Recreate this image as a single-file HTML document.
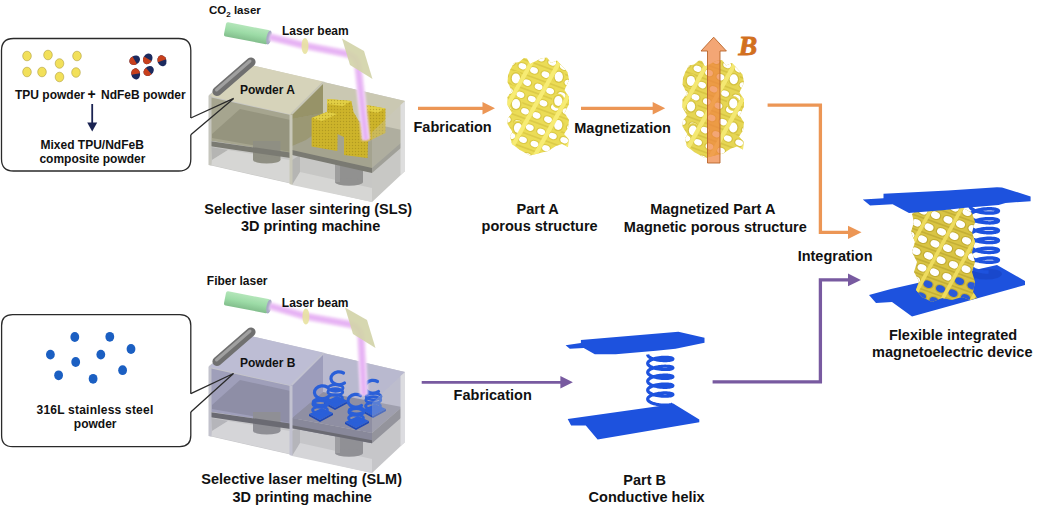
<!DOCTYPE html>
<html><head><meta charset="utf-8"><style>
html,body{margin:0;padding:0;background:#fff;width:1041px;height:513px;overflow:hidden}
svg{display:block}
text{font-family:"Liberation Sans",sans-serif;font-weight:bold}
</style></head><body>
<svg width="1041" height="513" viewBox="0 0 1041 513" style="font-family:'Liberation Sans',sans-serif;font-weight:bold"><defs><filter id="soft" x="-20%" y="-20%" width="140%" height="140%"><feGaussianBlur stdDeviation="0.9"/></filter><pattern id="dotpat" width="3" height="3" patternUnits="userSpaceOnUse"><circle cx="1.5" cy="1.5" r="0.7" fill="#9a8418" opacity="0.55"/></pattern><clipPath id="clH"><polygon points="311.6,118 327,112 327.4,99 351.4,101 353.5,112 360,123 366,118 366.3,105 385.4,108.5 385.4,133 368,141.5 367.5,158 344,155 344,137 337.5,134 337.3,151 311.6,146.4"/></clipPath></defs>
<rect width="1041" height="513" fill="#ffffff"/>
<polygon points="209.0,95.0 246.0,64.0 405.0,101.0 405.0,171.0 372.0,202.0 209.0,165.0" fill="#c7c7c5" stroke="none" stroke-width="0" />
<polygon points="211.0,147.0 228.0,150.0 212.0,160.0" fill="#b5b5b3" stroke="none" stroke-width="0" />
<polygon points="228.0,150.0 290.0,160.0 290.0,183.0 211.0,165.0 212.0,160.0" fill="#d6d6d4" stroke="none" stroke-width="0" />
<polygon points="292.0,160.0 300.0,155.0 300.0,175.0 292.0,185.0" fill="#b5b5b3" stroke="none" stroke-width="0" />
<polygon points="300.0,172.0 372.0,188.0 372.0,202.0 292.0,185.0" fill="#d6d6d4" stroke="none" stroke-width="0" />
<rect x="335" y="160" width="28" height="22" fill="#919190"/>
<ellipse cx="349" cy="182" rx="14" ry="3.8" fill="#919190"/>
<rect x="335" y="160" width="5" height="22" fill="#ffffff" opacity="0.12"/>
<polygon points="323.0,82.0 405.0,101.0 405.0,150.0 323.0,132.0" fill="#cac8b2" stroke="none" stroke-width="0" />
<polygon points="290.5,113.5 323.0,82.0 323.0,132.0 292.0,150.0" fill="#979368" stroke="none" stroke-width="0" />
<polygon points="292.0,119.0 323.0,113.0 402.0,130.0 402.0,146.0 372.0,171.0 292.0,153.0" fill="#a4a38f" stroke="none" stroke-width="0" />
<polygon points="292.0,119.0 323.0,113.0 323.0,128.0 306.0,140.0 292.0,146.0" fill="#979368" stroke="none" stroke-width="0" opacity="0.7"/>
<polygon points="292.0,150.0 372.0,168.0 372.0,173.0 292.0,155.0" fill="#7a7a72" stroke="none" stroke-width="0" />
<polygon points="372.0,168.0 402.0,142.0 402.0,147.0 372.0,173.0" fill="#8e8e85" stroke="none" stroke-width="0" />
<polygon points="209.0,97.0 290.5,115.0 290.5,153.0 209.0,140.5" fill="#a6a58f" stroke="none" stroke-width="0" />
<polygon points="240.0,109.0 290.5,120.0 290.5,152.0 212.0,138.0 212.0,134.0" fill="#95947e" stroke="none" stroke-width="0" />
<rect x="253" y="141" width="27.5" height="19" fill="#8f8f83"/>
<ellipse cx="266.7" cy="160" rx="13.7" ry="3.5" fill="#8f8f83"/>
<polygon points="209.0,141.0 290.5,152.5 290.5,158.0 209.0,146.0" fill="#7a7a72" stroke="none" stroke-width="0" />
<polygon points="209.0,96.0 246.0,64.0 323.0,81.5 290.5,114.5" fill="#d6d3ba" stroke="none" stroke-width="0" />
<polygon points="289.5,114.0 292.5,114.5 292.5,185.0 289.5,184.0" fill="#c8c7b8" stroke="none" stroke-width="0" />
<polygon points="290.5,113.5 323.0,81.5 325.0,82.0 292.5,114.5" fill="#c8c7b8" stroke="none" stroke-width="0" />
<polygon points="311.6,118.0 327.0,112.0 327.4,99.0 351.4,101.0 353.5,112.0 360.0,123.0 366.0,118.0 366.3,105.0 385.4,108.5 385.4,133.0 368.0,141.5 367.5,158.0 344.0,155.0 344.0,137.0 337.5,134.0 337.3,151.0 311.6,146.4" fill="#cdb42a" stroke="none" stroke-width="0" />
<polygon points="311.6,118.0 327.0,112.0 337.0,114.0 322.0,121.0" fill="#e2cf45" stroke="none" stroke-width="0" />
<polygon points="327.4,99.0 351.4,101.0 343.0,106.0 327.0,104.0" fill="#e2cf45" stroke="none" stroke-width="0" />
<polygon points="366.3,105.0 385.4,108.5 377.0,113.0 366.0,110.0" fill="#e2cf45" stroke="none" stroke-width="0" />
<rect x="311" y="98" width="75" height="61" fill="url(#dotpat)" clip-path="url(#clH)"/>
<polygon points="372.0,132.0 405.0,101.0 405.0,171.0 372.0,202.0" fill="#c9c9c7" stroke="none" stroke-width="0" opacity="0.3"/>
<polygon points="400.5,105.0 405.0,101.0 405.0,171.0 400.5,175.0" fill="#dedede" stroke="none" stroke-width="0" />
<polygon points="208.5,95.5 211.5,95.5 211.5,165.5 208.5,165.0" fill="#c6c6be" stroke="none" stroke-width="0" />
<g transform="translate(225,29) rotate(10.93)"><defs><linearGradient id="cyl0" x1="0" y1="0" x2="0" y2="1"><stop offset="0" stop-color="#b4e6ba"/><stop offset="0.5" stop-color="#9cdba6"/><stop offset="1" stop-color="#82be8c"/></linearGradient></defs><rect x="0" y="-7.2" width="44.8" height="14.4" rx="2" fill="url(#cyl0)"/><ellipse cx="44.8" cy="0" rx="2.5" ry="7.2" fill="#a7a9c4"/></g>
<path d="M270,37 L305,45.7 L348,54 Q357,57 358,66 L366,140" fill="none" stroke="#f3d6f8" stroke-width="8.5" stroke-linejoin="round" filter="url(#soft)"/>
<path d="M270,37 L305,45.7 L348,54 Q357,57 358,66 L366,140" fill="none" stroke="#e6b2f4" stroke-width="4.4" stroke-linejoin="round" filter="url(#soft)"/>
<ellipse cx="305.0" cy="46" rx="3.5" ry="8" fill="#e8e2a0" opacity="0.9"/>
<polygon points="342.0,38.5 364.0,51.0 372.5,79.0 350.0,65.0" fill="#d3d4a9" stroke="none" stroke-width="0" opacity="0.92"/>
<polygon points="209.0,366.0 246.0,335.0 405.0,372.0 405.0,442.0 372.0,473.0 209.0,436.0" fill="#c6c6c9" stroke="none" stroke-width="0" />
<polygon points="211.0,418.0 228.0,421.0 212.0,431.0" fill="#b5b5ba" stroke="none" stroke-width="0" />
<polygon points="228.0,421.0 290.0,431.0 290.0,454.0 211.0,436.0 212.0,431.0" fill="#d5d5d8" stroke="none" stroke-width="0" />
<polygon points="292.0,431.0 300.0,426.0 300.0,446.0 292.0,456.0" fill="#b5b5ba" stroke="none" stroke-width="0" />
<polygon points="300.0,443.0 372.0,459.0 372.0,473.0 292.0,456.0" fill="#d5d5d8" stroke="none" stroke-width="0" />
<rect x="335" y="431" width="28" height="22" fill="#909095"/>
<ellipse cx="349" cy="453" rx="14" ry="3.8" fill="#909095"/>
<rect x="335" y="431" width="5" height="22" fill="#ffffff" opacity="0.12"/>
<polygon points="323.0,353.0 405.0,372.0 405.0,413.0 323.0,395.0" fill="#b9b9cf" stroke="none" stroke-width="0" />
<polygon points="290.5,384.5 323.0,353.0 323.0,397.0 292.0,425.0" fill="#9d9dbb" stroke="none" stroke-width="0" />
<polygon points="292.0,418.0 323.0,392.0 402.0,407.0 372.0,433.0" fill="#8f8fa3" stroke="none" stroke-width="0" />
<polygon points="292.0,418.0 372.0,433.0 372.0,443.2 292.0,428.3" fill="#88889a" stroke="none" stroke-width="0" />
<polygon points="292.0,425.3 372.0,440.2 372.0,443.2 292.0,428.3" fill="#6a6a72" stroke="none" stroke-width="0" />
<polygon points="372.0,433.0 402.0,407.0 402.0,417.0 372.0,443.2" fill="#7e7e88" stroke="none" stroke-width="0" />
<polygon points="292.0,385.0 323.0,354.0 323.0,392.0 313.0,400.0 300.0,411.0 292.0,418.0" fill="#9d9dbb" stroke="none" stroke-width="0" opacity="0.85"/>
<polygon points="209.0,368.0 290.5,386.0 290.5,424.0 209.0,411.5" fill="#9f9fba" stroke="none" stroke-width="0" />
<polygon points="240.0,380.0 290.5,391.0 290.5,423.0 212.0,409.0 212.0,405.0" fill="#8e8ea6" stroke="none" stroke-width="0" />
<rect x="253" y="412" width="27.5" height="19" fill="#8f8f95"/>
<ellipse cx="266.7" cy="431" rx="13.7" ry="3.5" fill="#8f8f95"/>
<polygon points="209.0,412.0 290.5,423.5 290.5,429.0 209.0,417.0" fill="#6a6a72" stroke="none" stroke-width="0" />
<polygon points="209.0,367.0 246.0,335.0 323.0,352.5 290.5,385.5" fill="#bdbdd4" stroke="none" stroke-width="0" />
<polygon points="289.5,385.0 292.5,385.5 292.5,456.0 289.5,455.0" fill="#c2c2d0" stroke="none" stroke-width="0" />
<polygon points="290.5,384.5 323.0,352.5 325.0,353.0 292.5,385.5" fill="#c2c2d0" stroke="none" stroke-width="0" />
<polygon points="324.0,402.0 337.0,396.0 348.0,401.0 335.0,408.0" fill="#2a5fd8" stroke="none" stroke-width="0" />
<polygon points="324.0,402.0 335.0,408.0 348.0,401.0 348.0,403.0 335.0,410.0 324.0,404.0" fill="#1d48b8" stroke="none" stroke-width="0" />
<ellipse cx="335.0" cy="398.0" rx="7.5" ry="3.3" fill="none" stroke="#2a5fd8" stroke-width="2.8"/>
<ellipse cx="335.3" cy="392.0" rx="7.5" ry="3.3" fill="none" stroke="#2a5fd8" stroke-width="2.8"/>
<ellipse cx="335.6" cy="388.0" rx="7.5" ry="3.3" fill="none" stroke="#2a5fd8" stroke-width="2.8"/>
<path d="M343.5,373 A8,6.5 0 1 0 344.5,383" fill="none" stroke="#2a5fd8" stroke-width="3.2" stroke-linecap="round"/>
<polygon points="362.0,410.0 375.0,404.0 386.0,409.0 373.0,416.0" fill="#2a5fd8" stroke="none" stroke-width="0" />
<polygon points="362.0,410.0 373.0,416.0 386.0,409.0 386.0,411.0 373.0,418.0 362.0,412.0" fill="#1d48b8" stroke="none" stroke-width="0" />
<ellipse cx="373.0" cy="406.0" rx="7.5" ry="3.3" fill="none" stroke="#2a5fd8" stroke-width="2.8"/>
<ellipse cx="373.3" cy="400.0" rx="7.5" ry="3.3" fill="none" stroke="#2a5fd8" stroke-width="2.8"/>
<ellipse cx="373.6" cy="396.5" rx="7.5" ry="3.3" fill="none" stroke="#2a5fd8" stroke-width="2.8"/>
<path d="M377.5,381.5 A8,6.5 0 1 0 378.5,391.5" fill="none" stroke="#2a5fd8" stroke-width="3.2" stroke-linecap="round"/>
<polygon points="309.0,414.0 322.0,408.0 333.0,413.0 320.0,420.0" fill="#2a5fd8" stroke="none" stroke-width="0" />
<polygon points="309.0,414.0 320.0,420.0 333.0,413.0 333.0,415.0 320.0,422.0 309.0,416.0" fill="#1d48b8" stroke="none" stroke-width="0" />
<ellipse cx="320.0" cy="410.0" rx="7.5" ry="3.3" fill="none" stroke="#2a5fd8" stroke-width="2.8"/>
<ellipse cx="320.3" cy="404.0" rx="7.5" ry="3.3" fill="none" stroke="#2a5fd8" stroke-width="2.8"/>
<ellipse cx="320.6" cy="402.0" rx="7.5" ry="3.3" fill="none" stroke="#2a5fd8" stroke-width="2.8"/>
<path d="M327,387 A8,6.5 0 1 0 328,397" fill="none" stroke="#2a5fd8" stroke-width="3.2" stroke-linecap="round"/>
<polygon points="345.0,422.0 358.0,416.0 369.0,421.0 356.0,428.0" fill="#2a5fd8" stroke="none" stroke-width="0" />
<polygon points="345.0,422.0 356.0,428.0 369.0,421.0 369.0,423.0 356.0,430.0 345.0,424.0" fill="#1d48b8" stroke="none" stroke-width="0" />
<ellipse cx="356.0" cy="418.0" rx="7.5" ry="3.3" fill="none" stroke="#2a5fd8" stroke-width="2.8"/>
<ellipse cx="356.3" cy="412.0" rx="7.5" ry="3.3" fill="none" stroke="#2a5fd8" stroke-width="2.8"/>
<ellipse cx="356.6" cy="410.5" rx="7.5" ry="3.3" fill="none" stroke="#2a5fd8" stroke-width="2.8"/>
<path d="M360.5,395.5 A8,6.5 0 1 0 361.5,405.5" fill="none" stroke="#2a5fd8" stroke-width="3.2" stroke-linecap="round"/>
<polygon points="372.0,403.0 405.0,372.0 405.0,442.0 372.0,473.0" fill="#c6c6ca" stroke="none" stroke-width="0" opacity="0.3"/>
<polygon points="400.5,376.0 405.0,372.0 405.0,442.0 400.5,446.0" fill="#dcdce0" stroke="none" stroke-width="0" />
<polygon points="208.5,366.5 211.5,366.5 211.5,436.5 208.5,436.0" fill="#c2c2cc" stroke="none" stroke-width="0" />
<g transform="translate(225,298) rotate(10.93)"><defs><linearGradient id="cyl269" x1="0" y1="0" x2="0" y2="1"><stop offset="0" stop-color="#b4e6ba"/><stop offset="0.5" stop-color="#9cdba6"/><stop offset="1" stop-color="#82be8c"/></linearGradient></defs><rect x="0" y="-7.2" width="44.8" height="14.4" rx="2" fill="url(#cyl269)"/><ellipse cx="44.8" cy="0" rx="2.5" ry="7.2" fill="#a7a9c4"/></g>
<path d="M270,306 L305,316.2 L351,324.5 Q360,327.5 361,336.5 L364,395" fill="none" stroke="#f3d6f8" stroke-width="8.5" stroke-linejoin="round" filter="url(#soft)"/>
<path d="M270,306 L305,316.2 L351,324.5 Q360,327.5 361,336.5 L364,395" fill="none" stroke="#e6b2f4" stroke-width="4.4" stroke-linejoin="round" filter="url(#soft)"/>
<ellipse cx="305.9" cy="316.5" rx="3.5" ry="8" fill="#e8e2a0" opacity="0.9"/>
<polygon points="345.0,307.5 367.0,320.0 375.5,348.0 353.0,334.0" fill="#d3d4a9" stroke="none" stroke-width="0" opacity="0.92"/>
<line x1="217" y1="91.5" x2="251" y2="62" stroke="#707070" stroke-width="9.2" stroke-linecap="round"/>
<line x1="216.5" y1="90" x2="250" y2="61" stroke="#a0a0a0" stroke-width="3" stroke-linecap="round"/>
<line x1="217" y1="361.5" x2="251" y2="332" stroke="#707070" stroke-width="9.2" stroke-linecap="round"/>
<line x1="216.5" y1="360" x2="250" y2="331" stroke="#a0a0a0" stroke-width="3" stroke-linecap="round"/>
<path d="M13.5,38.5 H178.8 Q190.8,38.5 190.8,50.5 V118 M190.8,134.7 V159 Q190.8,171 178.8,171 H13.5 Q1.5,171 1.5,159 V50.5 Q1.5,38.5 13.5,38.5" fill="none" stroke="#2a2a2a" stroke-width="1.3"/>
<path d="M190.8,118 L233.7,98.4 L190.8,134.7" fill="none" stroke="#2a2a2a" stroke-width="1.3"/>
<path d="M12.6,314.6 H179.8 Q190.8,314.6 190.8,325.6 V393.7 M190.8,412.1 V435.6 Q190.8,446.6 179.8,446.6 H12.6 Q1.6,446.6 1.6,435.6 V325.6 Q1.6,314.6 12.6,314.6" fill="none" stroke="#2a2a2a" stroke-width="1.3"/>
<path d="M190.8,393.7 L233.5,373.5 L190.8,412.1" fill="none" stroke="#2a2a2a" stroke-width="1.3"/>
<ellipse cx="27" cy="56" rx="4.3" ry="4.8" fill="#f2e05a" stroke="#b0a040" stroke-width="0.6"/>
<ellipse cx="48" cy="55" rx="4.3" ry="4.8" fill="#f2e05a" stroke="#b0a040" stroke-width="0.6"/>
<ellipse cx="77" cy="56" rx="4.3" ry="4.8" fill="#f2e05a" stroke="#b0a040" stroke-width="0.6"/>
<ellipse cx="59.5" cy="63.5" rx="4.3" ry="4.8" fill="#f2e05a" stroke="#b0a040" stroke-width="0.6"/>
<ellipse cx="27" cy="72" rx="4.3" ry="4.8" fill="#f2e05a" stroke="#b0a040" stroke-width="0.6"/>
<ellipse cx="42" cy="72" rx="4.3" ry="4.8" fill="#f2e05a" stroke="#b0a040" stroke-width="0.6"/>
<ellipse cx="59.5" cy="77" rx="4.3" ry="4.8" fill="#f2e05a" stroke="#b0a040" stroke-width="0.6"/>
<ellipse cx="76" cy="72.5" rx="4.3" ry="4.8" fill="#f2e05a" stroke="#b0a040" stroke-width="0.6"/>
<g transform="translate(134.7,60.2) rotate(-30)"><ellipse rx="5.6" ry="4.4" fill="#1c2a5e"/><path d="M0,-4.4 A5.6,4.4 0 0 0 0,4.4 Z" fill="#c8401c"/></g>
<g transform="translate(147.8,58.8) rotate(-60)"><ellipse rx="5.6" ry="4.4" fill="#1c2a5e"/><path d="M0,-4.4 A5.6,4.4 0 0 0 0,4.4 Z" fill="#c8401c"/></g>
<g transform="translate(162,60.8) rotate(70)"><ellipse rx="5.6" ry="4.4" fill="#1c2a5e"/><path d="M0,-4.4 A5.6,4.4 0 0 0 0,4.4 Z" fill="#c8401c"/></g>
<g transform="translate(135.7,73.9) rotate(80)"><ellipse rx="5.6" ry="4.4" fill="#1c2a5e"/><path d="M0,-4.4 A5.6,4.4 0 0 0 0,4.4 Z" fill="#c8401c"/></g>
<g transform="translate(148.7,71) rotate(-40)"><ellipse rx="5.6" ry="4.4" fill="#1c2a5e"/><path d="M0,-4.4 A5.6,4.4 0 0 0 0,4.4 Z" fill="#c8401c"/></g>
<ellipse cx="74.8" cy="337" rx="4.4" ry="4.9" fill="#1b5fc2"/>
<ellipse cx="109.8" cy="336.8" rx="4.4" ry="4.9" fill="#1b5fc2"/>
<ellipse cx="50.4" cy="354.6" rx="4.4" ry="4.9" fill="#1b5fc2"/>
<ellipse cx="75.7" cy="362" rx="4.4" ry="4.9" fill="#1b5fc2"/>
<ellipse cx="100.8" cy="354.6" rx="4.4" ry="4.9" fill="#1b5fc2"/>
<ellipse cx="131" cy="349" rx="4.4" ry="4.9" fill="#1b5fc2"/>
<ellipse cx="58.6" cy="375.3" rx="4.4" ry="4.9" fill="#1b5fc2"/>
<ellipse cx="93.1" cy="378.8" rx="4.4" ry="4.9" fill="#1b5fc2"/>
<ellipse cx="122.6" cy="370.2" rx="4.4" ry="4.9" fill="#1b5fc2"/>
<text x="15" y="98.6" font-size="12" text-anchor="start" fill="#111" >TPU powder</text>
<text x="91.5" y="98.8" font-size="14" text-anchor="middle" fill="#111" >+</text>
<text x="101" y="98.6" font-size="12" text-anchor="start" fill="#111" >NdFeB powder</text>
<line x1="92.2" y1="104" x2="92.2" y2="124" stroke="#1a2352" stroke-width="1.8"/>
<polygon points="87.2,122.4 97.2,122.4 92.2,131.5" fill="#1a2352" stroke="none" stroke-width="0" />
<text x="92.2" y="148.7" font-size="12" text-anchor="middle" fill="#111" >Mixed TPU/NdFeB</text>
<text x="92.4" y="163.4" font-size="12" text-anchor="middle" fill="#111" >composite powder</text>
<text x="95" y="414" font-size="12" text-anchor="middle" fill="#111" letter-spacing="0.22">316L stainless steel</text>
<text x="95.2" y="428.2" font-size="12" text-anchor="middle" fill="#111" >powder</text>
<text x="209" y="14.2" font-size="11.5" text-anchor="start" fill="#111" >CO<tspan font-size="8" dy="2.5">2</tspan><tspan dy="-2.5"> laser</tspan></text>
<text x="282" y="34.8" font-size="12" text-anchor="start" fill="#111" >Laser beam</text>
<text x="240" y="93.6" font-size="12" text-anchor="start" fill="#111" >Powder A</text>
<text x="206.8" y="285.3" font-size="12" text-anchor="start" fill="#111" >Fiber laser</text>
<text x="281.8" y="306.6" font-size="12" text-anchor="start" fill="#111" >Laser beam</text>
<text x="240" y="367.2" font-size="12" text-anchor="start" fill="#111" >Powder B</text>
<text x="308.2" y="213.8" font-size="14.5" text-anchor="middle" fill="#111" >Selective laser sintering (SLS)</text>
<text x="310.6" y="230.8" font-size="14.5" text-anchor="middle" fill="#111" >3D printing machine</text>
<text x="537.6" y="213.8" font-size="14.5" text-anchor="middle" fill="#111" >Part A</text>
<text x="539.6" y="231.1" font-size="14.5" text-anchor="middle" fill="#111" >porous structure</text>
<text x="712.8" y="214.2" font-size="14.5" text-anchor="middle" fill="#111" >Magnetized Part A</text>
<text x="715.3" y="231.5" font-size="14.5" text-anchor="middle" fill="#111" >Magnetic porous structure</text>
<text x="452.6" y="131.7" font-size="14.5" text-anchor="middle" fill="#111" >Fabrication</text>
<text x="622.6" y="133" font-size="14.5" text-anchor="middle" fill="#111" >Magnetization</text>
<text x="835.1" y="261" font-size="14.5" text-anchor="middle" fill="#111" >Integration</text>
<text x="953" y="340.1" font-size="14.5" text-anchor="middle" fill="#111" >Flexible integrated</text>
<text x="952.3" y="356.6" font-size="14.5" text-anchor="middle" fill="#111" >magnetoelectric device</text>
<text x="301.7" y="484.3" font-size="14.5" text-anchor="middle" fill="#111" >Selective laser melting (SLM)</text>
<text x="302.2" y="501.5" font-size="14.5" text-anchor="middle" fill="#111" >3D printing machine</text>
<text x="492.7" y="400.3" font-size="14.5" text-anchor="middle" fill="#111" >Fabrication</text>
<text x="644.7" y="484.6" font-size="14.5" text-anchor="middle" fill="#111" >Part B</text>
<text x="646.6" y="501.9" font-size="14.5" text-anchor="middle" fill="#111" >Conductive helix</text>
<line x1="418" y1="108.3" x2="483.5" y2="108.3" stroke="#ec9655" stroke-width="3.2"/>
<polygon points="482.5,102.1 495.0,108.3 482.5,114.5" fill="#ec9655" stroke="none" stroke-width="0" />
<line x1="581" y1="108.3" x2="653.7" y2="108.3" stroke="#ec9655" stroke-width="3.2"/>
<polygon points="652.7,102.1 665.2,108.3 652.7,114.5" fill="#ec9655" stroke="none" stroke-width="0" />
<polyline points="767.6,105.1 820.4,105.1 820.4,232.3 849,232.3" fill="none" stroke="#ec9655" stroke-width="3.3"/>
<polygon points="848.0,225.7 861.5,232.3 848.0,238.9" fill="#ec9655" stroke="none" stroke-width="0" />
<line x1="421.7" y1="382.3" x2="561.4" y2="382.3" stroke="#785aa0" stroke-width="2.8"/>
<polygon points="560.4,376.1 572.9,382.3 560.4,388.5" fill="#785aa0" stroke="none" stroke-width="0" />
<polyline points="712.6,381.8 820.4,381.8 820.4,279.9 849,279.9" fill="none" stroke="#785aa0" stroke-width="3.3"/>
<polygon points="848.0,273.5 860.9,279.9 848.0,286.3" fill="#785aa0" stroke="none" stroke-width="0" />
<defs><clipPath id="clA"><rect x="507" y="58" width="62" height="98" rx="9"/></clipPath><clipPath id="clM"><rect x="682" y="60" width="62" height="99" rx="9"/></clipPath><clipPath id="clD"><rect x="910" y="208" width="64" height="91" rx="9"/></clipPath></defs>
<clipPath id="silA"><path d="M510.0,70.0 L514.0,63.0 L519.0,62.0 L524.0,58.0 L527.0,58.5 L530.0,64.0 L536.0,61.0 L541.0,58.5 L547.0,57.5 L551.0,63.0 L557.0,60.5 L562.0,66.0 L567.5,72.0 L569.0,80.0 L564.5,90.0 L569.0,97.0 L569.0,104.0 L564.5,113.0 L569.0,120.0 L568.0,128.0 L564.0,134.0 L568.5,139.0 L568.0,147.0 L562.0,144.0 L556.0,146.0 L548.0,151.0 L540.0,153.0 L530.0,155.5 L520.0,150.0 L512.0,144.0 L510.0,136.0 L512.5,132.0 L507.5,124.0 L508.0,118.0 L512.0,113.0 L507.5,105.0 L507.5,97.0 L512.0,91.0 L507.5,82.0 L508.0,76.0 Z"/></clipPath>
<path d="M510.0,70.0 L514.0,63.0 L519.0,62.0 L524.0,58.0 L527.0,58.5 L530.0,64.0 L536.0,61.0 L541.0,58.5 L547.0,57.5 L551.0,63.0 L557.0,60.5 L562.0,66.0 L567.5,72.0 L569.0,80.0 L564.5,90.0 L569.0,97.0 L569.0,104.0 L564.5,113.0 L569.0,120.0 L568.0,128.0 L564.0,134.0 L568.5,139.0 L568.0,147.0 L562.0,144.0 L556.0,146.0 L548.0,151.0 L540.0,153.0 L530.0,155.5 L520.0,150.0 L512.0,144.0 L510.0,136.0 L512.5,132.0 L507.5,124.0 L508.0,118.0 L512.0,113.0 L507.5,105.0 L507.5,97.0 L512.0,91.0 L507.5,82.0 L508.0,76.0 Z" fill="#ebdc56"/>
<g clip-path="url(#silA)">
<line x1="337.6" y1="211.6" x2="567.6" y2="295.6" stroke="#cdb93a" stroke-width="1.6" opacity="0.5"/>
<line x1="344.4" y1="199.4" x2="574.4" y2="283.4" stroke="#cdb93a" stroke-width="1.6" opacity="0.5"/>
<line x1="351.2" y1="187.2" x2="581.2" y2="271.2" stroke="#cdb93a" stroke-width="1.6" opacity="0.5"/>
<line x1="358.0" y1="175.0" x2="588.0" y2="259.0" stroke="#cdb93a" stroke-width="1.6" opacity="0.5"/>
<line x1="364.8" y1="162.8" x2="594.8" y2="246.8" stroke="#cdb93a" stroke-width="1.6" opacity="0.5"/>
<line x1="371.6" y1="150.6" x2="601.6" y2="234.6" stroke="#cdb93a" stroke-width="1.6" opacity="0.5"/>
<line x1="378.4" y1="138.4" x2="608.4" y2="222.4" stroke="#cdb93a" stroke-width="1.6" opacity="0.5"/>
<line x1="385.2" y1="126.2" x2="615.2" y2="210.2" stroke="#cdb93a" stroke-width="1.6" opacity="0.5"/>
<line x1="392.0" y1="114.0" x2="622.0" y2="198.0" stroke="#cdb93a" stroke-width="1.6" opacity="0.5"/>
<line x1="398.8" y1="101.8" x2="628.8" y2="185.8" stroke="#cdb93a" stroke-width="1.6" opacity="0.5"/>
<line x1="405.6" y1="89.6" x2="635.6" y2="173.6" stroke="#cdb93a" stroke-width="1.6" opacity="0.5"/>
<line x1="412.4" y1="77.4" x2="642.4" y2="161.4" stroke="#cdb93a" stroke-width="1.6" opacity="0.5"/>
<line x1="419.2" y1="65.2" x2="649.2" y2="149.2" stroke="#cdb93a" stroke-width="1.6" opacity="0.5"/>
<line x1="426.0" y1="53.0" x2="656.0" y2="137.0" stroke="#cdb93a" stroke-width="1.6" opacity="0.5"/>
<line x1="432.8" y1="40.8" x2="662.8" y2="124.8" stroke="#cdb93a" stroke-width="1.6" opacity="0.5"/>
<line x1="439.6" y1="28.6" x2="669.6" y2="112.6" stroke="#cdb93a" stroke-width="1.6" opacity="0.5"/>
<line x1="446.4" y1="16.4" x2="676.4" y2="100.4" stroke="#cdb93a" stroke-width="1.6" opacity="0.5"/>
<line x1="453.2" y1="4.2" x2="683.2" y2="88.2" stroke="#cdb93a" stroke-width="1.6" opacity="0.5"/>
<line x1="460.0" y1="-8.0" x2="690.0" y2="76.0" stroke="#cdb93a" stroke-width="1.6" opacity="0.5"/>
<line x1="466.8" y1="-20.2" x2="696.8" y2="63.8" stroke="#cdb93a" stroke-width="1.6" opacity="0.5"/>
<line x1="473.6" y1="-32.4" x2="703.6" y2="51.6" stroke="#cdb93a" stroke-width="1.6" opacity="0.5"/>
<line x1="480.4" y1="-44.6" x2="710.4" y2="39.4" stroke="#cdb93a" stroke-width="1.6" opacity="0.5"/>
<ellipse cx="504.6" cy="147.8" rx="5.3" ry="4.1" fill="#cdb93a" opacity="0.55" transform="rotate(22 504.6 147.8)"/>
<ellipse cx="504.6" cy="147.8" rx="4.0" ry="3.0" fill="#ffffff" transform="rotate(22 504.6 147.8)"/>
<ellipse cx="516.1" cy="152.0" rx="5.3" ry="4.1" fill="#cdb93a" opacity="0.55" transform="rotate(22 516.1 152.0)"/>
<ellipse cx="516.1" cy="152.0" rx="4.0" ry="3.0" fill="#ffffff" transform="rotate(22 516.1 152.0)"/>
<ellipse cx="527.6" cy="156.2" rx="5.3" ry="4.1" fill="#cdb93a" opacity="0.55" transform="rotate(22 527.6 156.2)"/>
<ellipse cx="527.6" cy="156.2" rx="4.0" ry="3.0" fill="#ffffff" transform="rotate(22 527.6 156.2)"/>
<ellipse cx="539.1" cy="160.4" rx="5.3" ry="4.1" fill="#cdb93a" opacity="0.55" transform="rotate(22 539.1 160.4)"/>
<ellipse cx="539.1" cy="160.4" rx="4.0" ry="3.0" fill="#ffffff" transform="rotate(22 539.1 160.4)"/>
<ellipse cx="511.5" cy="135.6" rx="5.3" ry="4.1" fill="#cdb93a" opacity="0.55" transform="rotate(22 511.5 135.6)"/>
<ellipse cx="511.5" cy="135.6" rx="4.0" ry="3.0" fill="#ffffff" transform="rotate(22 511.5 135.6)"/>
<ellipse cx="523.0" cy="139.8" rx="5.3" ry="4.1" fill="#cdb93a" opacity="0.55" transform="rotate(22 523.0 139.8)"/>
<ellipse cx="523.0" cy="139.8" rx="4.0" ry="3.0" fill="#ffffff" transform="rotate(22 523.0 139.8)"/>
<ellipse cx="534.5" cy="144.0" rx="5.3" ry="4.1" fill="#cdb93a" opacity="0.55" transform="rotate(22 534.5 144.0)"/>
<ellipse cx="534.5" cy="144.0" rx="4.0" ry="3.0" fill="#ffffff" transform="rotate(22 534.5 144.0)"/>
<ellipse cx="546.0" cy="148.2" rx="5.3" ry="4.1" fill="#cdb93a" opacity="0.55" transform="rotate(22 546.0 148.2)"/>
<ellipse cx="546.0" cy="148.2" rx="4.0" ry="3.0" fill="#ffffff" transform="rotate(22 546.0 148.2)"/>
<ellipse cx="557.5" cy="152.4" rx="5.3" ry="4.1" fill="#cdb93a" opacity="0.55" transform="rotate(22 557.5 152.4)"/>
<ellipse cx="557.5" cy="152.4" rx="4.0" ry="3.0" fill="#ffffff" transform="rotate(22 557.5 152.4)"/>
<ellipse cx="569.0" cy="156.6" rx="5.3" ry="4.1" fill="#cdb93a" opacity="0.55" transform="rotate(22 569.0 156.6)"/>
<ellipse cx="569.0" cy="156.6" rx="4.0" ry="3.0" fill="#ffffff" transform="rotate(22 569.0 156.6)"/>
<ellipse cx="506.8" cy="119.2" rx="5.3" ry="4.1" fill="#cdb93a" opacity="0.55" transform="rotate(22 506.8 119.2)"/>
<ellipse cx="506.8" cy="119.2" rx="4.0" ry="3.0" fill="#ffffff" transform="rotate(22 506.8 119.2)"/>
<ellipse cx="518.2" cy="123.4" rx="5.3" ry="4.1" fill="#cdb93a" opacity="0.55" transform="rotate(22 518.2 123.4)"/>
<ellipse cx="518.2" cy="123.4" rx="4.0" ry="3.0" fill="#ffffff" transform="rotate(22 518.2 123.4)"/>
<ellipse cx="529.8" cy="127.6" rx="5.3" ry="4.1" fill="#cdb93a" opacity="0.55" transform="rotate(22 529.8 127.6)"/>
<ellipse cx="529.8" cy="127.6" rx="4.0" ry="3.0" fill="#ffffff" transform="rotate(22 529.8 127.6)"/>
<ellipse cx="541.2" cy="131.8" rx="5.3" ry="4.1" fill="#cdb93a" opacity="0.55" transform="rotate(22 541.2 131.8)"/>
<ellipse cx="541.2" cy="131.8" rx="4.0" ry="3.0" fill="#ffffff" transform="rotate(22 541.2 131.8)"/>
<ellipse cx="552.8" cy="136.0" rx="5.3" ry="4.1" fill="#cdb93a" opacity="0.55" transform="rotate(22 552.8 136.0)"/>
<ellipse cx="552.8" cy="136.0" rx="4.0" ry="3.0" fill="#ffffff" transform="rotate(22 552.8 136.0)"/>
<ellipse cx="564.2" cy="140.2" rx="5.3" ry="4.1" fill="#cdb93a" opacity="0.55" transform="rotate(22 564.2 140.2)"/>
<ellipse cx="564.2" cy="140.2" rx="4.0" ry="3.0" fill="#ffffff" transform="rotate(22 564.2 140.2)"/>
<ellipse cx="513.5" cy="107.0" rx="5.3" ry="4.1" fill="#cdb93a" opacity="0.55" transform="rotate(22 513.5 107.0)"/>
<ellipse cx="513.5" cy="107.0" rx="4.0" ry="3.0" fill="#ffffff" transform="rotate(22 513.5 107.0)"/>
<ellipse cx="525.0" cy="111.2" rx="5.3" ry="4.1" fill="#cdb93a" opacity="0.55" transform="rotate(22 525.0 111.2)"/>
<ellipse cx="525.0" cy="111.2" rx="4.0" ry="3.0" fill="#ffffff" transform="rotate(22 525.0 111.2)"/>
<ellipse cx="536.5" cy="115.4" rx="5.3" ry="4.1" fill="#cdb93a" opacity="0.55" transform="rotate(22 536.5 115.4)"/>
<ellipse cx="536.5" cy="115.4" rx="4.0" ry="3.0" fill="#ffffff" transform="rotate(22 536.5 115.4)"/>
<ellipse cx="548.0" cy="119.6" rx="5.3" ry="4.1" fill="#cdb93a" opacity="0.55" transform="rotate(22 548.0 119.6)"/>
<ellipse cx="548.0" cy="119.6" rx="4.0" ry="3.0" fill="#ffffff" transform="rotate(22 548.0 119.6)"/>
<ellipse cx="559.5" cy="123.8" rx="5.3" ry="4.1" fill="#cdb93a" opacity="0.55" transform="rotate(22 559.5 123.8)"/>
<ellipse cx="559.5" cy="123.8" rx="4.0" ry="3.0" fill="#ffffff" transform="rotate(22 559.5 123.8)"/>
<ellipse cx="571.0" cy="128.0" rx="5.3" ry="4.1" fill="#cdb93a" opacity="0.55" transform="rotate(22 571.0 128.0)"/>
<ellipse cx="571.0" cy="128.0" rx="4.0" ry="3.0" fill="#ffffff" transform="rotate(22 571.0 128.0)"/>
<ellipse cx="508.9" cy="90.6" rx="5.3" ry="4.1" fill="#cdb93a" opacity="0.55" transform="rotate(22 508.9 90.6)"/>
<ellipse cx="508.9" cy="90.6" rx="4.0" ry="3.0" fill="#ffffff" transform="rotate(22 508.9 90.6)"/>
<ellipse cx="520.4" cy="94.8" rx="5.3" ry="4.1" fill="#cdb93a" opacity="0.55" transform="rotate(22 520.4 94.8)"/>
<ellipse cx="520.4" cy="94.8" rx="4.0" ry="3.0" fill="#ffffff" transform="rotate(22 520.4 94.8)"/>
<ellipse cx="531.9" cy="99.0" rx="5.3" ry="4.1" fill="#cdb93a" opacity="0.55" transform="rotate(22 531.9 99.0)"/>
<ellipse cx="531.9" cy="99.0" rx="4.0" ry="3.0" fill="#ffffff" transform="rotate(22 531.9 99.0)"/>
<ellipse cx="543.4" cy="103.2" rx="5.3" ry="4.1" fill="#cdb93a" opacity="0.55" transform="rotate(22 543.4 103.2)"/>
<ellipse cx="543.4" cy="103.2" rx="4.0" ry="3.0" fill="#ffffff" transform="rotate(22 543.4 103.2)"/>
<ellipse cx="554.9" cy="107.4" rx="5.3" ry="4.1" fill="#cdb93a" opacity="0.55" transform="rotate(22 554.9 107.4)"/>
<ellipse cx="554.9" cy="107.4" rx="4.0" ry="3.0" fill="#ffffff" transform="rotate(22 554.9 107.4)"/>
<ellipse cx="566.4" cy="111.6" rx="5.3" ry="4.1" fill="#cdb93a" opacity="0.55" transform="rotate(22 566.4 111.6)"/>
<ellipse cx="566.4" cy="111.6" rx="4.0" ry="3.0" fill="#ffffff" transform="rotate(22 566.4 111.6)"/>
<ellipse cx="504.1" cy="74.2" rx="5.3" ry="4.1" fill="#cdb93a" opacity="0.55" transform="rotate(22 504.1 74.2)"/>
<ellipse cx="504.1" cy="74.2" rx="4.0" ry="3.0" fill="#ffffff" transform="rotate(22 504.1 74.2)"/>
<ellipse cx="515.6" cy="78.4" rx="5.3" ry="4.1" fill="#cdb93a" opacity="0.55" transform="rotate(22 515.6 78.4)"/>
<ellipse cx="515.6" cy="78.4" rx="4.0" ry="3.0" fill="#ffffff" transform="rotate(22 515.6 78.4)"/>
<ellipse cx="527.1" cy="82.6" rx="5.3" ry="4.1" fill="#cdb93a" opacity="0.55" transform="rotate(22 527.1 82.6)"/>
<ellipse cx="527.1" cy="82.6" rx="4.0" ry="3.0" fill="#ffffff" transform="rotate(22 527.1 82.6)"/>
<ellipse cx="538.6" cy="86.8" rx="5.3" ry="4.1" fill="#cdb93a" opacity="0.55" transform="rotate(22 538.6 86.8)"/>
<ellipse cx="538.6" cy="86.8" rx="4.0" ry="3.0" fill="#ffffff" transform="rotate(22 538.6 86.8)"/>
<ellipse cx="550.1" cy="91.0" rx="5.3" ry="4.1" fill="#cdb93a" opacity="0.55" transform="rotate(22 550.1 91.0)"/>
<ellipse cx="550.1" cy="91.0" rx="4.0" ry="3.0" fill="#ffffff" transform="rotate(22 550.1 91.0)"/>
<ellipse cx="561.6" cy="95.2" rx="5.3" ry="4.1" fill="#cdb93a" opacity="0.55" transform="rotate(22 561.6 95.2)"/>
<ellipse cx="561.6" cy="95.2" rx="4.0" ry="3.0" fill="#ffffff" transform="rotate(22 561.6 95.2)"/>
<ellipse cx="573.1" cy="99.4" rx="5.3" ry="4.1" fill="#cdb93a" opacity="0.55" transform="rotate(22 573.1 99.4)"/>
<ellipse cx="573.1" cy="99.4" rx="4.0" ry="3.0" fill="#ffffff" transform="rotate(22 573.1 99.4)"/>
<ellipse cx="511.0" cy="62.0" rx="5.3" ry="4.1" fill="#cdb93a" opacity="0.55" transform="rotate(22 511.0 62.0)"/>
<ellipse cx="511.0" cy="62.0" rx="4.0" ry="3.0" fill="#ffffff" transform="rotate(22 511.0 62.0)"/>
<ellipse cx="522.5" cy="66.2" rx="5.3" ry="4.1" fill="#cdb93a" opacity="0.55" transform="rotate(22 522.5 66.2)"/>
<ellipse cx="522.5" cy="66.2" rx="4.0" ry="3.0" fill="#ffffff" transform="rotate(22 522.5 66.2)"/>
<ellipse cx="534.0" cy="70.4" rx="5.3" ry="4.1" fill="#cdb93a" opacity="0.55" transform="rotate(22 534.0 70.4)"/>
<ellipse cx="534.0" cy="70.4" rx="4.0" ry="3.0" fill="#ffffff" transform="rotate(22 534.0 70.4)"/>
<ellipse cx="545.5" cy="74.6" rx="5.3" ry="4.1" fill="#cdb93a" opacity="0.55" transform="rotate(22 545.5 74.6)"/>
<ellipse cx="545.5" cy="74.6" rx="4.0" ry="3.0" fill="#ffffff" transform="rotate(22 545.5 74.6)"/>
<ellipse cx="557.0" cy="78.8" rx="5.3" ry="4.1" fill="#cdb93a" opacity="0.55" transform="rotate(22 557.0 78.8)"/>
<ellipse cx="557.0" cy="78.8" rx="4.0" ry="3.0" fill="#ffffff" transform="rotate(22 557.0 78.8)"/>
<ellipse cx="568.5" cy="83.0" rx="5.3" ry="4.1" fill="#cdb93a" opacity="0.55" transform="rotate(22 568.5 83.0)"/>
<ellipse cx="568.5" cy="83.0" rx="4.0" ry="3.0" fill="#ffffff" transform="rotate(22 568.5 83.0)"/>
<ellipse cx="529.2" cy="54.0" rx="5.3" ry="4.1" fill="#cdb93a" opacity="0.55" transform="rotate(22 529.2 54.0)"/>
<ellipse cx="529.2" cy="54.0" rx="4.0" ry="3.0" fill="#ffffff" transform="rotate(22 529.2 54.0)"/>
<ellipse cx="540.8" cy="58.2" rx="5.3" ry="4.1" fill="#cdb93a" opacity="0.55" transform="rotate(22 540.8 58.2)"/>
<ellipse cx="540.8" cy="58.2" rx="4.0" ry="3.0" fill="#ffffff" transform="rotate(22 540.8 58.2)"/>
<ellipse cx="552.2" cy="62.4" rx="5.3" ry="4.1" fill="#cdb93a" opacity="0.55" transform="rotate(22 552.2 62.4)"/>
<ellipse cx="552.2" cy="62.4" rx="4.0" ry="3.0" fill="#ffffff" transform="rotate(22 552.2 62.4)"/>
<ellipse cx="563.8" cy="66.6" rx="5.3" ry="4.1" fill="#cdb93a" opacity="0.55" transform="rotate(22 563.8 66.6)"/>
<ellipse cx="563.8" cy="66.6" rx="4.0" ry="3.0" fill="#ffffff" transform="rotate(22 563.8 66.6)"/>
<ellipse cx="570.5" cy="54.4" rx="5.3" ry="4.1" fill="#cdb93a" opacity="0.55" transform="rotate(22 570.5 54.4)"/>
<ellipse cx="570.5" cy="54.4" rx="4.0" ry="3.0" fill="#ffffff" transform="rotate(22 570.5 54.4)"/>
<ellipse cx="515.9" cy="78.4" rx="6.6" ry="7.4" fill="#ebdc56"/>
<ellipse cx="515.9" cy="78.4" rx="5.4" ry="6.3" fill="#cdb93a" opacity="0.6"/>
<ellipse cx="515.9" cy="78.4" rx="4.1" ry="5.0" fill="#ffffff"/>
<ellipse cx="516" cy="104" rx="6.6" ry="7.4" fill="#ebdc56"/>
<ellipse cx="516" cy="104" rx="5.4" ry="6.3" fill="#cdb93a" opacity="0.6"/>
<ellipse cx="516" cy="104" rx="4.1" ry="5.0" fill="#ffffff"/>
<ellipse cx="518" cy="128" rx="6.6" ry="7.4" fill="#ebdc56"/>
<ellipse cx="518" cy="128" rx="5.4" ry="6.3" fill="#cdb93a" opacity="0.6"/>
<ellipse cx="518" cy="128" rx="4.1" ry="5.0" fill="#ffffff"/>
<ellipse cx="558.8" cy="76.8" rx="6.6" ry="7.4" fill="#ebdc56"/>
<ellipse cx="558.8" cy="76.8" rx="5.4" ry="6.3" fill="#cdb93a" opacity="0.6"/>
<ellipse cx="558.8" cy="76.8" rx="4.1" ry="5.0" fill="#ffffff"/>
<ellipse cx="558.3" cy="101" rx="6.6" ry="7.4" fill="#ebdc56"/>
<ellipse cx="558.3" cy="101" rx="5.4" ry="6.3" fill="#cdb93a" opacity="0.6"/>
<ellipse cx="558.3" cy="101" rx="4.1" ry="5.0" fill="#ffffff"/>
<ellipse cx="558.2" cy="125" rx="6.6" ry="7.4" fill="#ebdc56"/>
<ellipse cx="558.2" cy="125" rx="5.4" ry="6.3" fill="#cdb93a" opacity="0.6"/>
<ellipse cx="558.2" cy="125" rx="4.1" ry="5.0" fill="#ffffff"/>
<line x1="333.4" y1="268.8" x2="496.6" y2="-24.0" stroke="#f7ec74" stroke-width="4.2"/>
<line x1="356.4" y1="277.2" x2="519.6" y2="-15.6" stroke="#f7ec74" stroke-width="4.2"/>
<line x1="379.4" y1="285.6" x2="542.6" y2="-7.2" stroke="#f7ec74" stroke-width="4.2"/>
<line x1="402.4" y1="294.0" x2="565.6" y2="1.2" stroke="#f7ec74" stroke-width="4.2"/>
<line x1="425.4" y1="302.4" x2="588.6" y2="9.6" stroke="#f7ec74" stroke-width="4.2"/>
<line x1="448.4" y1="310.8" x2="611.6" y2="18.0" stroke="#f7ec74" stroke-width="4.2"/>
<line x1="471.4" y1="319.2" x2="634.6" y2="26.4" stroke="#f7ec74" stroke-width="4.2"/>
<line x1="494.4" y1="327.6" x2="657.6" y2="34.8" stroke="#f7ec74" stroke-width="4.2"/>
<line x1="517.4" y1="336.0" x2="680.6" y2="43.2" stroke="#f7ec74" stroke-width="4.2"/>
<line x1="540.4" y1="344.4" x2="703.6" y2="51.6" stroke="#f7ec74" stroke-width="4.2"/>
<line x1="563.4" y1="352.8" x2="726.6" y2="60.0" stroke="#f7ec74" stroke-width="4.2"/>
</g>
<clipPath id="silM"><path d="M685.0,72.5 L689.0,65.5 L694.0,64.5 L699.0,60.5 L702.0,61.0 L705.0,66.5 L711.0,63.5 L716.0,61.0 L722.0,60.0 L726.0,65.5 L732.0,63.0 L737.0,68.5 L742.5,74.5 L744.0,82.5 L739.5,92.5 L744.0,99.5 L744.0,106.5 L739.5,115.5 L744.0,122.5 L743.0,130.5 L739.0,136.5 L743.5,141.5 L743.0,149.5 L737.0,146.5 L731.0,148.5 L723.0,153.5 L715.0,155.5 L705.0,158.0 L695.0,152.5 L687.0,146.5 L685.0,138.5 L687.5,134.5 L682.5,126.5 L683.0,120.5 L687.0,115.5 L682.5,107.5 L682.5,99.5 L687.0,93.5 L682.5,84.5 L683.0,78.5 Z"/></clipPath>
<path d="M685.0,72.5 L689.0,65.5 L694.0,64.5 L699.0,60.5 L702.0,61.0 L705.0,66.5 L711.0,63.5 L716.0,61.0 L722.0,60.0 L726.0,65.5 L732.0,63.0 L737.0,68.5 L742.5,74.5 L744.0,82.5 L739.5,92.5 L744.0,99.5 L744.0,106.5 L739.5,115.5 L744.0,122.5 L743.0,130.5 L739.0,136.5 L743.5,141.5 L743.0,149.5 L737.0,146.5 L731.0,148.5 L723.0,153.5 L715.0,155.5 L705.0,158.0 L695.0,152.5 L687.0,146.5 L685.0,138.5 L687.5,134.5 L682.5,126.5 L683.0,120.5 L687.0,115.5 L682.5,107.5 L682.5,99.5 L687.0,93.5 L682.5,84.5 L683.0,78.5 Z" fill="#e6d654"/>
<g clip-path="url(#silM)">
<line x1="512.6" y1="214.1" x2="742.6" y2="298.1" stroke="#c8b436" stroke-width="1.6" opacity="0.5"/>
<line x1="519.4" y1="201.9" x2="749.4" y2="285.9" stroke="#c8b436" stroke-width="1.6" opacity="0.5"/>
<line x1="526.2" y1="189.7" x2="756.2" y2="273.7" stroke="#c8b436" stroke-width="1.6" opacity="0.5"/>
<line x1="533.0" y1="177.5" x2="763.0" y2="261.5" stroke="#c8b436" stroke-width="1.6" opacity="0.5"/>
<line x1="539.8" y1="165.3" x2="769.8" y2="249.3" stroke="#c8b436" stroke-width="1.6" opacity="0.5"/>
<line x1="546.6" y1="153.1" x2="776.6" y2="237.1" stroke="#c8b436" stroke-width="1.6" opacity="0.5"/>
<line x1="553.4" y1="140.9" x2="783.4" y2="224.9" stroke="#c8b436" stroke-width="1.6" opacity="0.5"/>
<line x1="560.2" y1="128.7" x2="790.2" y2="212.7" stroke="#c8b436" stroke-width="1.6" opacity="0.5"/>
<line x1="567.0" y1="116.5" x2="797.0" y2="200.5" stroke="#c8b436" stroke-width="1.6" opacity="0.5"/>
<line x1="573.8" y1="104.3" x2="803.8" y2="188.3" stroke="#c8b436" stroke-width="1.6" opacity="0.5"/>
<line x1="580.6" y1="92.1" x2="810.6" y2="176.1" stroke="#c8b436" stroke-width="1.6" opacity="0.5"/>
<line x1="587.4" y1="79.9" x2="817.4" y2="163.9" stroke="#c8b436" stroke-width="1.6" opacity="0.5"/>
<line x1="594.2" y1="67.7" x2="824.2" y2="151.7" stroke="#c8b436" stroke-width="1.6" opacity="0.5"/>
<line x1="601.0" y1="55.5" x2="831.0" y2="139.5" stroke="#c8b436" stroke-width="1.6" opacity="0.5"/>
<line x1="607.8" y1="43.3" x2="837.8" y2="127.3" stroke="#c8b436" stroke-width="1.6" opacity="0.5"/>
<line x1="614.6" y1="31.1" x2="844.6" y2="115.1" stroke="#c8b436" stroke-width="1.6" opacity="0.5"/>
<line x1="621.4" y1="18.9" x2="851.4" y2="102.9" stroke="#c8b436" stroke-width="1.6" opacity="0.5"/>
<line x1="628.2" y1="6.7" x2="858.2" y2="90.7" stroke="#c8b436" stroke-width="1.6" opacity="0.5"/>
<line x1="635.0" y1="-5.5" x2="865.0" y2="78.5" stroke="#c8b436" stroke-width="1.6" opacity="0.5"/>
<line x1="641.8" y1="-17.7" x2="871.8" y2="66.3" stroke="#c8b436" stroke-width="1.6" opacity="0.5"/>
<line x1="648.6" y1="-29.9" x2="878.6" y2="54.1" stroke="#c8b436" stroke-width="1.6" opacity="0.5"/>
<line x1="655.4" y1="-42.1" x2="885.4" y2="41.9" stroke="#c8b436" stroke-width="1.6" opacity="0.5"/>
<ellipse cx="679.6" cy="150.3" rx="5.3" ry="4.1" fill="#c8b436" opacity="0.55" transform="rotate(22 679.6 150.3)"/>
<ellipse cx="679.6" cy="150.3" rx="4.0" ry="3.0" fill="#ffffff" transform="rotate(22 679.6 150.3)"/>
<ellipse cx="691.1" cy="154.5" rx="5.3" ry="4.1" fill="#c8b436" opacity="0.55" transform="rotate(22 691.1 154.5)"/>
<ellipse cx="691.1" cy="154.5" rx="4.0" ry="3.0" fill="#ffffff" transform="rotate(22 691.1 154.5)"/>
<ellipse cx="702.6" cy="158.7" rx="5.3" ry="4.1" fill="#c8b436" opacity="0.55" transform="rotate(22 702.6 158.7)"/>
<ellipse cx="702.6" cy="158.7" rx="4.0" ry="3.0" fill="#ffffff" transform="rotate(22 702.6 158.7)"/>
<ellipse cx="714.1" cy="162.9" rx="5.3" ry="4.1" fill="#c8b436" opacity="0.55" transform="rotate(22 714.1 162.9)"/>
<ellipse cx="714.1" cy="162.9" rx="4.0" ry="3.0" fill="#ffffff" transform="rotate(22 714.1 162.9)"/>
<ellipse cx="686.5" cy="138.1" rx="5.3" ry="4.1" fill="#c8b436" opacity="0.55" transform="rotate(22 686.5 138.1)"/>
<ellipse cx="686.5" cy="138.1" rx="4.0" ry="3.0" fill="#ffffff" transform="rotate(22 686.5 138.1)"/>
<ellipse cx="698.0" cy="142.3" rx="5.3" ry="4.1" fill="#c8b436" opacity="0.55" transform="rotate(22 698.0 142.3)"/>
<ellipse cx="698.0" cy="142.3" rx="4.0" ry="3.0" fill="#ffffff" transform="rotate(22 698.0 142.3)"/>
<ellipse cx="709.5" cy="146.5" rx="5.3" ry="4.1" fill="#c8b436" opacity="0.55" transform="rotate(22 709.5 146.5)"/>
<ellipse cx="709.5" cy="146.5" rx="4.0" ry="3.0" fill="#ffffff" transform="rotate(22 709.5 146.5)"/>
<ellipse cx="721.0" cy="150.7" rx="5.3" ry="4.1" fill="#c8b436" opacity="0.55" transform="rotate(22 721.0 150.7)"/>
<ellipse cx="721.0" cy="150.7" rx="4.0" ry="3.0" fill="#ffffff" transform="rotate(22 721.0 150.7)"/>
<ellipse cx="732.5" cy="154.9" rx="5.3" ry="4.1" fill="#c8b436" opacity="0.55" transform="rotate(22 732.5 154.9)"/>
<ellipse cx="732.5" cy="154.9" rx="4.0" ry="3.0" fill="#ffffff" transform="rotate(22 732.5 154.9)"/>
<ellipse cx="744.0" cy="159.1" rx="5.3" ry="4.1" fill="#c8b436" opacity="0.55" transform="rotate(22 744.0 159.1)"/>
<ellipse cx="744.0" cy="159.1" rx="4.0" ry="3.0" fill="#ffffff" transform="rotate(22 744.0 159.1)"/>
<ellipse cx="681.8" cy="121.7" rx="5.3" ry="4.1" fill="#c8b436" opacity="0.55" transform="rotate(22 681.8 121.7)"/>
<ellipse cx="681.8" cy="121.7" rx="4.0" ry="3.0" fill="#ffffff" transform="rotate(22 681.8 121.7)"/>
<ellipse cx="693.2" cy="125.9" rx="5.3" ry="4.1" fill="#c8b436" opacity="0.55" transform="rotate(22 693.2 125.9)"/>
<ellipse cx="693.2" cy="125.9" rx="4.0" ry="3.0" fill="#ffffff" transform="rotate(22 693.2 125.9)"/>
<ellipse cx="704.8" cy="130.1" rx="5.3" ry="4.1" fill="#c8b436" opacity="0.55" transform="rotate(22 704.8 130.1)"/>
<ellipse cx="704.8" cy="130.1" rx="4.0" ry="3.0" fill="#ffffff" transform="rotate(22 704.8 130.1)"/>
<ellipse cx="716.2" cy="134.3" rx="5.3" ry="4.1" fill="#c8b436" opacity="0.55" transform="rotate(22 716.2 134.3)"/>
<ellipse cx="716.2" cy="134.3" rx="4.0" ry="3.0" fill="#ffffff" transform="rotate(22 716.2 134.3)"/>
<ellipse cx="727.8" cy="138.5" rx="5.3" ry="4.1" fill="#c8b436" opacity="0.55" transform="rotate(22 727.8 138.5)"/>
<ellipse cx="727.8" cy="138.5" rx="4.0" ry="3.0" fill="#ffffff" transform="rotate(22 727.8 138.5)"/>
<ellipse cx="739.2" cy="142.7" rx="5.3" ry="4.1" fill="#c8b436" opacity="0.55" transform="rotate(22 739.2 142.7)"/>
<ellipse cx="739.2" cy="142.7" rx="4.0" ry="3.0" fill="#ffffff" transform="rotate(22 739.2 142.7)"/>
<ellipse cx="688.5" cy="109.5" rx="5.3" ry="4.1" fill="#c8b436" opacity="0.55" transform="rotate(22 688.5 109.5)"/>
<ellipse cx="688.5" cy="109.5" rx="4.0" ry="3.0" fill="#ffffff" transform="rotate(22 688.5 109.5)"/>
<ellipse cx="700.0" cy="113.7" rx="5.3" ry="4.1" fill="#c8b436" opacity="0.55" transform="rotate(22 700.0 113.7)"/>
<ellipse cx="700.0" cy="113.7" rx="4.0" ry="3.0" fill="#ffffff" transform="rotate(22 700.0 113.7)"/>
<ellipse cx="711.5" cy="117.9" rx="5.3" ry="4.1" fill="#c8b436" opacity="0.55" transform="rotate(22 711.5 117.9)"/>
<ellipse cx="711.5" cy="117.9" rx="4.0" ry="3.0" fill="#ffffff" transform="rotate(22 711.5 117.9)"/>
<ellipse cx="723.0" cy="122.1" rx="5.3" ry="4.1" fill="#c8b436" opacity="0.55" transform="rotate(22 723.0 122.1)"/>
<ellipse cx="723.0" cy="122.1" rx="4.0" ry="3.0" fill="#ffffff" transform="rotate(22 723.0 122.1)"/>
<ellipse cx="734.5" cy="126.3" rx="5.3" ry="4.1" fill="#c8b436" opacity="0.55" transform="rotate(22 734.5 126.3)"/>
<ellipse cx="734.5" cy="126.3" rx="4.0" ry="3.0" fill="#ffffff" transform="rotate(22 734.5 126.3)"/>
<ellipse cx="746.0" cy="130.5" rx="5.3" ry="4.1" fill="#c8b436" opacity="0.55" transform="rotate(22 746.0 130.5)"/>
<ellipse cx="746.0" cy="130.5" rx="4.0" ry="3.0" fill="#ffffff" transform="rotate(22 746.0 130.5)"/>
<ellipse cx="683.9" cy="93.1" rx="5.3" ry="4.1" fill="#c8b436" opacity="0.55" transform="rotate(22 683.9 93.1)"/>
<ellipse cx="683.9" cy="93.1" rx="4.0" ry="3.0" fill="#ffffff" transform="rotate(22 683.9 93.1)"/>
<ellipse cx="695.4" cy="97.3" rx="5.3" ry="4.1" fill="#c8b436" opacity="0.55" transform="rotate(22 695.4 97.3)"/>
<ellipse cx="695.4" cy="97.3" rx="4.0" ry="3.0" fill="#ffffff" transform="rotate(22 695.4 97.3)"/>
<ellipse cx="706.9" cy="101.5" rx="5.3" ry="4.1" fill="#c8b436" opacity="0.55" transform="rotate(22 706.9 101.5)"/>
<ellipse cx="706.9" cy="101.5" rx="4.0" ry="3.0" fill="#ffffff" transform="rotate(22 706.9 101.5)"/>
<ellipse cx="718.4" cy="105.7" rx="5.3" ry="4.1" fill="#c8b436" opacity="0.55" transform="rotate(22 718.4 105.7)"/>
<ellipse cx="718.4" cy="105.7" rx="4.0" ry="3.0" fill="#ffffff" transform="rotate(22 718.4 105.7)"/>
<ellipse cx="729.9" cy="109.9" rx="5.3" ry="4.1" fill="#c8b436" opacity="0.55" transform="rotate(22 729.9 109.9)"/>
<ellipse cx="729.9" cy="109.9" rx="4.0" ry="3.0" fill="#ffffff" transform="rotate(22 729.9 109.9)"/>
<ellipse cx="741.4" cy="114.1" rx="5.3" ry="4.1" fill="#c8b436" opacity="0.55" transform="rotate(22 741.4 114.1)"/>
<ellipse cx="741.4" cy="114.1" rx="4.0" ry="3.0" fill="#ffffff" transform="rotate(22 741.4 114.1)"/>
<ellipse cx="679.1" cy="76.7" rx="5.3" ry="4.1" fill="#c8b436" opacity="0.55" transform="rotate(22 679.1 76.7)"/>
<ellipse cx="679.1" cy="76.7" rx="4.0" ry="3.0" fill="#ffffff" transform="rotate(22 679.1 76.7)"/>
<ellipse cx="690.6" cy="80.9" rx="5.3" ry="4.1" fill="#c8b436" opacity="0.55" transform="rotate(22 690.6 80.9)"/>
<ellipse cx="690.6" cy="80.9" rx="4.0" ry="3.0" fill="#ffffff" transform="rotate(22 690.6 80.9)"/>
<ellipse cx="702.1" cy="85.1" rx="5.3" ry="4.1" fill="#c8b436" opacity="0.55" transform="rotate(22 702.1 85.1)"/>
<ellipse cx="702.1" cy="85.1" rx="4.0" ry="3.0" fill="#ffffff" transform="rotate(22 702.1 85.1)"/>
<ellipse cx="713.6" cy="89.3" rx="5.3" ry="4.1" fill="#c8b436" opacity="0.55" transform="rotate(22 713.6 89.3)"/>
<ellipse cx="713.6" cy="89.3" rx="4.0" ry="3.0" fill="#ffffff" transform="rotate(22 713.6 89.3)"/>
<ellipse cx="725.1" cy="93.5" rx="5.3" ry="4.1" fill="#c8b436" opacity="0.55" transform="rotate(22 725.1 93.5)"/>
<ellipse cx="725.1" cy="93.5" rx="4.0" ry="3.0" fill="#ffffff" transform="rotate(22 725.1 93.5)"/>
<ellipse cx="736.6" cy="97.7" rx="5.3" ry="4.1" fill="#c8b436" opacity="0.55" transform="rotate(22 736.6 97.7)"/>
<ellipse cx="736.6" cy="97.7" rx="4.0" ry="3.0" fill="#ffffff" transform="rotate(22 736.6 97.7)"/>
<ellipse cx="748.1" cy="101.9" rx="5.3" ry="4.1" fill="#c8b436" opacity="0.55" transform="rotate(22 748.1 101.9)"/>
<ellipse cx="748.1" cy="101.9" rx="4.0" ry="3.0" fill="#ffffff" transform="rotate(22 748.1 101.9)"/>
<ellipse cx="686.0" cy="64.5" rx="5.3" ry="4.1" fill="#c8b436" opacity="0.55" transform="rotate(22 686.0 64.5)"/>
<ellipse cx="686.0" cy="64.5" rx="4.0" ry="3.0" fill="#ffffff" transform="rotate(22 686.0 64.5)"/>
<ellipse cx="697.5" cy="68.7" rx="5.3" ry="4.1" fill="#c8b436" opacity="0.55" transform="rotate(22 697.5 68.7)"/>
<ellipse cx="697.5" cy="68.7" rx="4.0" ry="3.0" fill="#ffffff" transform="rotate(22 697.5 68.7)"/>
<ellipse cx="709.0" cy="72.9" rx="5.3" ry="4.1" fill="#c8b436" opacity="0.55" transform="rotate(22 709.0 72.9)"/>
<ellipse cx="709.0" cy="72.9" rx="4.0" ry="3.0" fill="#ffffff" transform="rotate(22 709.0 72.9)"/>
<ellipse cx="720.5" cy="77.1" rx="5.3" ry="4.1" fill="#c8b436" opacity="0.55" transform="rotate(22 720.5 77.1)"/>
<ellipse cx="720.5" cy="77.1" rx="4.0" ry="3.0" fill="#ffffff" transform="rotate(22 720.5 77.1)"/>
<ellipse cx="732.0" cy="81.3" rx="5.3" ry="4.1" fill="#c8b436" opacity="0.55" transform="rotate(22 732.0 81.3)"/>
<ellipse cx="732.0" cy="81.3" rx="4.0" ry="3.0" fill="#ffffff" transform="rotate(22 732.0 81.3)"/>
<ellipse cx="743.5" cy="85.5" rx="5.3" ry="4.1" fill="#c8b436" opacity="0.55" transform="rotate(22 743.5 85.5)"/>
<ellipse cx="743.5" cy="85.5" rx="4.0" ry="3.0" fill="#ffffff" transform="rotate(22 743.5 85.5)"/>
<ellipse cx="704.2" cy="56.5" rx="5.3" ry="4.1" fill="#c8b436" opacity="0.55" transform="rotate(22 704.2 56.5)"/>
<ellipse cx="704.2" cy="56.5" rx="4.0" ry="3.0" fill="#ffffff" transform="rotate(22 704.2 56.5)"/>
<ellipse cx="715.8" cy="60.7" rx="5.3" ry="4.1" fill="#c8b436" opacity="0.55" transform="rotate(22 715.8 60.7)"/>
<ellipse cx="715.8" cy="60.7" rx="4.0" ry="3.0" fill="#ffffff" transform="rotate(22 715.8 60.7)"/>
<ellipse cx="727.2" cy="64.9" rx="5.3" ry="4.1" fill="#c8b436" opacity="0.55" transform="rotate(22 727.2 64.9)"/>
<ellipse cx="727.2" cy="64.9" rx="4.0" ry="3.0" fill="#ffffff" transform="rotate(22 727.2 64.9)"/>
<ellipse cx="738.8" cy="69.1" rx="5.3" ry="4.1" fill="#c8b436" opacity="0.55" transform="rotate(22 738.8 69.1)"/>
<ellipse cx="738.8" cy="69.1" rx="4.0" ry="3.0" fill="#ffffff" transform="rotate(22 738.8 69.1)"/>
<ellipse cx="745.5" cy="56.9" rx="5.3" ry="4.1" fill="#c8b436" opacity="0.55" transform="rotate(22 745.5 56.9)"/>
<ellipse cx="745.5" cy="56.9" rx="4.0" ry="3.0" fill="#ffffff" transform="rotate(22 745.5 56.9)"/>
<ellipse cx="690.9" cy="80.9" rx="6.6" ry="7.4" fill="#e6d654"/>
<ellipse cx="690.9" cy="80.9" rx="5.4" ry="6.3" fill="#c8b436" opacity="0.6"/>
<ellipse cx="690.9" cy="80.9" rx="4.1" ry="5.0" fill="#ffffff"/>
<ellipse cx="691" cy="106.5" rx="6.6" ry="7.4" fill="#e6d654"/>
<ellipse cx="691" cy="106.5" rx="5.4" ry="6.3" fill="#c8b436" opacity="0.6"/>
<ellipse cx="691" cy="106.5" rx="4.1" ry="5.0" fill="#ffffff"/>
<ellipse cx="693" cy="130.5" rx="6.6" ry="7.4" fill="#e6d654"/>
<ellipse cx="693" cy="130.5" rx="5.4" ry="6.3" fill="#c8b436" opacity="0.6"/>
<ellipse cx="693" cy="130.5" rx="4.1" ry="5.0" fill="#ffffff"/>
<ellipse cx="733.8" cy="79.3" rx="6.6" ry="7.4" fill="#e6d654"/>
<ellipse cx="733.8" cy="79.3" rx="5.4" ry="6.3" fill="#c8b436" opacity="0.6"/>
<ellipse cx="733.8" cy="79.3" rx="4.1" ry="5.0" fill="#ffffff"/>
<ellipse cx="733.3" cy="103.5" rx="6.6" ry="7.4" fill="#e6d654"/>
<ellipse cx="733.3" cy="103.5" rx="5.4" ry="6.3" fill="#c8b436" opacity="0.6"/>
<ellipse cx="733.3" cy="103.5" rx="4.1" ry="5.0" fill="#ffffff"/>
<ellipse cx="733.2" cy="127.5" rx="6.6" ry="7.4" fill="#e6d654"/>
<ellipse cx="733.2" cy="127.5" rx="5.4" ry="6.3" fill="#c8b436" opacity="0.6"/>
<ellipse cx="733.2" cy="127.5" rx="4.1" ry="5.0" fill="#ffffff"/>
<line x1="508.4" y1="271.3" x2="671.6" y2="-21.5" stroke="#f4e872" stroke-width="4.2"/>
<line x1="531.4" y1="279.7" x2="694.6" y2="-13.1" stroke="#f4e872" stroke-width="4.2"/>
<line x1="554.4" y1="288.1" x2="717.6" y2="-4.7" stroke="#f4e872" stroke-width="4.2"/>
<line x1="577.4" y1="296.5" x2="740.6" y2="3.7" stroke="#f4e872" stroke-width="4.2"/>
<line x1="600.4" y1="304.9" x2="763.6" y2="12.1" stroke="#f4e872" stroke-width="4.2"/>
<line x1="623.4" y1="313.3" x2="786.6" y2="20.5" stroke="#f4e872" stroke-width="4.2"/>
<line x1="646.4" y1="321.7" x2="809.6" y2="28.9" stroke="#f4e872" stroke-width="4.2"/>
<line x1="669.4" y1="330.1" x2="832.6" y2="37.3" stroke="#f4e872" stroke-width="4.2"/>
<line x1="692.4" y1="338.5" x2="855.6" y2="45.7" stroke="#f4e872" stroke-width="4.2"/>
<line x1="715.4" y1="346.9" x2="878.6" y2="54.1" stroke="#f4e872" stroke-width="4.2"/>
<line x1="738.4" y1="355.3" x2="901.6" y2="62.5" stroke="#f4e872" stroke-width="4.2"/>
</g>
<path d="M707.5,163 V51 H701 L713.7,37.2 L726.4,51 H720 V163 Z" fill="#ee8440" fill-opacity="0.72" stroke="#b8642a" stroke-width="0.9"/>
<text x="738.5" y="55" style="font-family:'Liberation Serif',serif;font-weight:bold;font-style:italic" font-size="28" fill="#d2701f" stroke="#d2701f" stroke-width="0.9">B</text>
<polygon points="565.6,345.2 580.9,343.1 580.9,340.0 678.4,331.7 704.5,337.7 704.5,342.8 675.6,348.7 656.1,350.8 615.7,354.3 594.8,354.3 583.7,348.0 569.8,348.7" fill="#1d52de" stroke="none" stroke-width="0" />
<polygon points="567.7,419.0 674.0,404.0 699.3,419.4 699.3,422.2 597.6,439.6 585.8,425.6 571.1,425.4" fill="#1d52de" stroke="none" stroke-width="0" />
<polyline points="647.70,354.50 647.81,355.16 648.13,355.80 648.66,356.43 649.39,357.04 650.30,357.62 651.39,358.16 652.63,358.66 654.00,359.10 655.48,359.50 657.04,359.83 658.66,360.11 660.30,360.33 661.94,360.48 663.56,360.58 665.12,360.61 666.60,360.59 667.97,360.51 669.21,360.39 670.30,360.22 671.21,360.01 671.94,359.78 672.47,359.52 672.79,359.24 672.90,358.95 672.79,358.67 672.47,358.39 671.94,358.13 671.21,357.90 670.30,357.69 669.21,357.52 667.97,357.40 666.60,357.32 665.12,357.30 663.56,357.33 661.94,357.43 660.30,357.58 658.66,357.80 657.04,358.08 655.48,358.41 654.00,358.81 652.63,359.25 651.39,359.75 650.30,360.29 649.39,360.87 648.66,361.47 648.13,362.11 647.81,362.75 647.70,363.41 647.81,364.06 648.13,364.71 648.66,365.34 649.39,365.95 650.30,366.53 651.39,367.07 652.63,367.56 654.00,368.01 655.48,368.41 657.04,368.74 658.66,369.02 660.30,369.24 661.94,369.39 663.56,369.48 665.12,369.52 666.60,369.50 667.97,369.42 669.21,369.30 670.30,369.13 671.21,368.92 671.94,368.68 672.47,368.42 672.79,368.15 672.90,367.86 672.79,367.58 672.47,367.30 671.94,367.04 671.21,366.81 670.30,366.60 669.21,366.43 667.97,366.31 666.60,366.23 665.12,366.21 663.56,366.24 661.94,366.34 660.30,366.49 658.66,366.71 657.04,366.98 655.48,367.32 654.00,367.72 652.63,368.16 651.39,368.66 650.30,369.20 649.39,369.78 648.66,370.38 648.13,371.02 647.81,371.66 647.70,372.32 647.81,372.97 648.13,373.62 648.66,374.25 649.39,374.86 650.30,375.44 651.39,375.98 652.63,376.47 654.00,376.92 655.48,377.31 657.04,377.65 658.66,377.93 660.30,378.15 661.94,378.30 663.56,378.39 665.12,378.43 666.60,378.41 667.97,378.33 669.21,378.20 670.30,378.04 671.21,377.83 671.94,377.59 672.47,377.33 672.79,377.06 672.90,376.77 672.79,376.49 672.47,376.21 671.94,375.95 671.21,375.72 670.30,375.51 669.21,375.34 667.97,375.22 666.60,375.14 665.12,375.12 663.56,375.15 661.94,375.25 660.30,375.40 658.66,375.62 657.04,375.89 655.48,376.23 654.00,376.62 652.63,377.07 651.39,377.57 650.30,378.11 649.39,378.68 648.66,379.29 648.13,379.92 647.81,380.57 647.70,381.23 647.81,381.88 648.13,382.53 648.66,383.16 649.39,383.77 650.30,384.35 651.39,384.89 652.63,385.38 654.00,385.83 655.48,386.22 657.04,386.56 658.66,386.84 660.30,387.05 661.94,387.21 663.56,387.30 665.12,387.34 666.60,387.31 667.97,387.24 669.21,387.11 670.30,386.95 671.21,386.74 671.94,386.50 672.47,386.24 672.79,385.97 672.90,385.68 672.79,385.40 672.47,385.12 671.94,384.86 671.21,384.62 670.30,384.42 669.21,384.25 667.97,384.12 666.60,384.05 665.12,384.03 663.56,384.06 661.94,384.15 660.30,384.31 658.66,384.53 657.04,384.80 655.48,385.14 654.00,385.53 652.63,385.98 651.39,386.48 650.30,387.02 649.39,387.59 648.66,388.20 648.13,388.83 647.81,389.48 647.70,390.14 647.81,390.79 648.13,391.44 648.66,392.07 649.39,392.68 650.30,393.26 651.39,393.80 652.63,394.29 654.00,394.74 655.48,395.13 657.04,395.47 658.66,395.75 660.30,395.96 661.94,396.12 663.56,396.21 665.12,396.25 666.60,396.22 667.97,396.15 669.21,396.02 670.30,395.85 671.21,395.65 671.94,395.41 672.47,395.15 672.79,394.88 672.90,394.59 672.79,394.31 672.47,394.03 671.94,393.77 671.21,393.53 670.30,393.33 669.21,393.16 667.97,393.03 666.60,392.96 665.12,392.94 663.56,392.97 661.94,393.06 660.30,393.22 658.66,393.43 657.04,393.71 655.48,394.05 654.00,394.44 652.63,394.89 651.39,395.39 650.30,395.93 649.39,396.50 648.66,397.11 648.13,397.74 647.81,398.39 647.70,399.05 647.81,399.70 648.13,400.35 648.66,400.98 649.39,401.59 650.30,402.17 651.39,402.70 652.63,403.20 654.00,403.65 655.48,404.04 657.04,404.38 658.66,404.66 660.30,404.87 661.94,405.03 663.56,405.12 665.12,405.16 666.60,405.13 667.97,405.06 669.21,404.93 670.30,404.76 671.21,404.56 671.94,404.32 672.47,404.06 672.79,403.78 672.90,403.50" fill="none" stroke="#1d52de" stroke-width="3.2" stroke-linejoin="round"/>
<polygon points="869.0,295.0 891.0,289.0 997.0,265.0 1025.0,281.0 1025.0,285.0 912.0,316.5 892.0,302.0 876.0,303.0" fill="#1d52de" stroke="none" stroke-width="0" />
<ellipse cx="986" cy="274" rx="16" ry="5.5" fill="#1842c0" opacity="0.6"/>
<polyline points="970.00,206.00 970.12,206.77 970.49,207.52 971.08,208.26 971.91,208.97 972.94,209.65 974.17,210.28 975.57,210.85 977.12,211.37 978.79,211.82 980.55,212.21 982.37,212.52 984.23,212.76 986.09,212.93 987.91,213.02 989.67,213.05 991.33,213.00 992.88,212.89 994.27,212.73 995.49,212.51 996.52,212.24 997.34,211.94 997.93,211.61 998.29,211.27 998.40,210.91 998.27,210.55 997.90,210.21 997.29,209.88 996.46,209.58 995.42,209.32 994.19,209.10 992.78,208.94 991.23,208.83 989.56,208.79 987.79,208.82 985.97,208.92 984.11,209.09 982.26,209.34 980.43,209.66 978.68,210.05 977.01,210.50 975.48,211.02 974.09,211.60 972.87,212.24 971.85,212.91 971.04,213.62 970.45,214.36 970.11,215.12 970.00,215.89 970.14,216.66 970.52,217.41 971.13,218.15 971.97,218.86 973.01,219.53 974.25,220.15 975.66,220.73 977.22,221.24 978.90,221.69 980.66,222.07 982.49,222.38 984.35,222.62 986.20,222.78 988.02,222.87 989.78,222.89 991.44,222.84 992.97,222.73 994.36,222.56 995.57,222.33 996.58,222.07 997.38,221.76 997.96,221.43 998.30,221.08 998.40,220.73 998.25,220.37 997.87,220.03 997.25,219.70 996.40,219.40 995.35,219.14 994.10,218.93 992.69,218.77 991.13,218.67 989.45,218.63 987.68,218.67 985.85,218.77 983.99,218.95 982.14,219.20 980.32,219.52 978.57,219.91 976.91,220.38 975.38,220.90 974.00,221.48 972.80,222.12 971.79,222.80 970.99,223.51 970.43,224.25 970.09,225.01 970.00,225.78 970.15,226.55 970.55,227.30 971.18,228.04 972.03,228.74 973.09,229.41 974.34,230.03 975.76,230.60 977.32,231.11 979.01,231.56 980.78,231.93 982.61,232.24 984.47,232.47 986.32,232.63 988.14,232.71 989.89,232.73 991.54,232.67 993.06,232.56 994.44,232.38 995.64,232.16 996.64,231.89 997.43,231.58 997.99,231.25 998.31,230.90 998.40,230.55 998.24,230.19 997.84,229.85 997.20,229.52 996.34,229.23 995.28,228.97 994.02,228.76 992.59,228.60 991.03,228.51 989.34,228.47 987.57,228.51 985.73,228.62 983.88,228.80 982.02,229.06 980.21,229.38 978.46,229.78 976.81,230.25 975.29,230.78 973.92,231.36 972.73,232.00 971.73,232.68 970.95,233.40 970.40,234.14 970.08,234.90 970.00,235.67 970.17,236.44 970.58,237.19 971.22,237.93 972.09,238.63 973.16,239.29 974.42,239.91 975.85,240.48 977.43,240.98 979.12,241.43 980.89,241.80 982.73,242.10 984.58,242.32 986.44,242.48 988.25,242.56 989.99,242.57 991.64,242.51 993.16,242.39 994.52,242.21 995.71,241.98 996.69,241.71 997.47,241.41 998.02,241.07 998.33,240.72 998.39,240.36 998.22,240.01 997.80,239.67 997.15,239.34 996.28,239.05 995.20,238.80 993.93,238.59 992.50,238.44 990.92,238.34 989.23,238.32 987.45,238.36 985.62,238.47 983.76,238.66 981.91,238.92 980.09,239.25 978.35,239.65 976.71,240.12 975.20,240.65 973.84,241.24 972.66,241.89 971.68,242.57 970.91,243.29 970.37,244.03 970.07,244.79 970.01,245.56 970.19,246.33 970.62,247.08 971.27,247.81 972.15,248.51 973.24,249.18 974.51,249.79 975.95,250.35 977.53,250.86 979.23,251.29 981.01,251.66 982.84,251.96 984.70,252.18 986.55,252.33 988.36,252.40 990.10,252.41 991.74,252.35 993.25,252.22 994.60,252.04 995.77,251.81 996.75,251.53 997.51,251.23 998.04,250.89 998.34,250.54 998.39,250.18 998.20,249.83 997.77,249.49 997.10,249.17 996.22,248.88 995.13,248.62 993.85,248.42 992.40,248.27 990.82,248.18 989.12,248.16 987.34,248.20 985.50,248.32 983.64,248.51 981.79,248.78 979.98,249.11 978.24,249.52 976.61,249.99 975.11,250.53 973.76,251.13 972.59,251.77 971.62,252.45 970.87,253.17 970.34,253.92 970.06,254.68 970.01,255.45 970.21,256.22 970.65,256.97 971.32,257.70 972.21,258.40 973.31,259.06 974.60,259.67 976.05,260.23 977.64,260.73 979.34,261.16 981.12,261.52 982.96,261.81 984.82,262.03 986.67,262.17 988.48,262.25 990.21,262.25 991.84,262.18 993.34,262.05 994.68,261.87 995.84,261.63 996.81,261.36 997.55,261.05 998.07,260.71 998.35,260.36 998.39,260.00 998.18,259.65 997.73,259.31 997.05,258.99 996.15,258.70 995.05,258.45 993.76,258.25 992.31,258.11 990.71,258.02 989.01,258.00 987.22,258.05 985.38,258.17 983.52,258.37 981.67,258.64 979.87,258.98 978.14,259.39 976.51,259.87 975.02,260.41 973.68,261.01 972.52,261.65 971.57,262.34 970.83,263.06 970.32,263.81 970.05,264.57 970.02,265.34 970.23,266.11 970.69,266.86 971.37,267.59 972.28,268.28 973.39,268.94 974.68,269.55 976.14,270.10 977.74,270.60 979.45,271.03 981.24,271.38 983.08,271.67 984.94,271.88 986.79,272.02 988.59,272.09" fill="none" stroke="#1d52de" stroke-width="3.5" stroke-linejoin="round"/>
<clipPath id="silD"><path d="M912.0,214.0 L918.0,209.0 L928.0,211.0 L936.0,207.0 L946.0,210.0 L955.0,206.0 L965.0,209.0 L972.0,213.0 L975.0,222.0 L972.0,232.0 L975.0,242.0 L972.0,252.0 L975.0,262.0 L972.0,272.0 L975.0,282.0 L973.0,292.0 L977.0,298.0 L970.0,300.0 L962.0,297.0 L952.0,300.0 L942.0,298.0 L932.0,302.0 L922.0,297.0 L916.0,290.0 L919.0,281.0 L914.0,272.0 L917.0,262.0 L912.0,252.0 L915.0,242.0 L911.0,232.0 L914.0,222.0 Z"/></clipPath>
<path d="M912.0,214.0 L918.0,209.0 L928.0,211.0 L936.0,207.0 L946.0,210.0 L955.0,206.0 L965.0,209.0 L972.0,213.0 L975.0,222.0 L972.0,232.0 L975.0,242.0 L972.0,252.0 L975.0,262.0 L972.0,272.0 L975.0,282.0 L973.0,292.0 L977.0,298.0 L970.0,300.0 L962.0,297.0 L952.0,300.0 L942.0,298.0 L932.0,302.0 L922.0,297.0 L916.0,290.0 L919.0,281.0 L914.0,272.0 L917.0,262.0 L912.0,252.0 L915.0,242.0 L911.0,232.0 L914.0,222.0 Z" fill="#d9c444"/>
<g clip-path="url(#silD)">
<line x1="735.0" y1="351.0" x2="985.0" y2="441.0" stroke="#b09b28" stroke-width="1.6" opacity="0.5"/>
<line x1="741.5" y1="339.0" x2="991.5" y2="429.0" stroke="#b09b28" stroke-width="1.6" opacity="0.5"/>
<line x1="748.0" y1="327.0" x2="998.0" y2="417.0" stroke="#b09b28" stroke-width="1.6" opacity="0.5"/>
<line x1="754.5" y1="315.0" x2="1004.5" y2="405.0" stroke="#b09b28" stroke-width="1.6" opacity="0.5"/>
<line x1="761.0" y1="303.0" x2="1011.0" y2="393.0" stroke="#b09b28" stroke-width="1.6" opacity="0.5"/>
<line x1="767.5" y1="291.0" x2="1017.5" y2="381.0" stroke="#b09b28" stroke-width="1.6" opacity="0.5"/>
<line x1="774.0" y1="279.0" x2="1024.0" y2="369.0" stroke="#b09b28" stroke-width="1.6" opacity="0.5"/>
<line x1="780.5" y1="267.0" x2="1030.5" y2="357.0" stroke="#b09b28" stroke-width="1.6" opacity="0.5"/>
<line x1="787.0" y1="255.0" x2="1037.0" y2="345.0" stroke="#b09b28" stroke-width="1.6" opacity="0.5"/>
<line x1="793.5" y1="243.0" x2="1043.5" y2="333.0" stroke="#b09b28" stroke-width="1.6" opacity="0.5"/>
<line x1="800.0" y1="231.0" x2="1050.0" y2="321.0" stroke="#b09b28" stroke-width="1.6" opacity="0.5"/>
<line x1="806.5" y1="219.0" x2="1056.5" y2="309.0" stroke="#b09b28" stroke-width="1.6" opacity="0.5"/>
<line x1="813.0" y1="207.0" x2="1063.0" y2="297.0" stroke="#b09b28" stroke-width="1.6" opacity="0.5"/>
<line x1="819.5" y1="195.0" x2="1069.5" y2="285.0" stroke="#b09b28" stroke-width="1.6" opacity="0.5"/>
<line x1="826.0" y1="183.0" x2="1076.0" y2="273.0" stroke="#b09b28" stroke-width="1.6" opacity="0.5"/>
<line x1="832.5" y1="171.0" x2="1082.5" y2="261.0" stroke="#b09b28" stroke-width="1.6" opacity="0.5"/>
<line x1="839.0" y1="159.0" x2="1089.0" y2="249.0" stroke="#b09b28" stroke-width="1.6" opacity="0.5"/>
<line x1="845.5" y1="147.0" x2="1095.5" y2="237.0" stroke="#b09b28" stroke-width="1.6" opacity="0.5"/>
<line x1="852.0" y1="135.0" x2="1102.0" y2="225.0" stroke="#b09b28" stroke-width="1.6" opacity="0.5"/>
<line x1="858.5" y1="123.0" x2="1108.5" y2="213.0" stroke="#b09b28" stroke-width="1.6" opacity="0.5"/>
<line x1="865.0" y1="111.0" x2="1115.0" y2="201.0" stroke="#b09b28" stroke-width="1.6" opacity="0.5"/>
<line x1="871.5" y1="99.0" x2="1121.5" y2="189.0" stroke="#b09b28" stroke-width="1.6" opacity="0.5"/>
<ellipse cx="909.0" cy="291.8" rx="5.8999999999999995" ry="4.6" fill="#b09b28" opacity="0.55" transform="rotate(22 909.0 291.8)"/>
<ellipse cx="909.0" cy="291.8" rx="4.6" ry="3.5" fill="#2a5ad8" transform="rotate(22 909.0 291.8)"/>
<ellipse cx="921.5" cy="296.2" rx="5.8999999999999995" ry="4.6" fill="#b09b28" opacity="0.55" transform="rotate(22 921.5 296.2)"/>
<ellipse cx="921.5" cy="296.2" rx="4.6" ry="3.5" fill="#2a5ad8" transform="rotate(22 921.5 296.2)"/>
<ellipse cx="934.0" cy="300.8" rx="5.8999999999999995" ry="4.6" fill="#b09b28" opacity="0.55" transform="rotate(22 934.0 300.8)"/>
<ellipse cx="934.0" cy="300.8" rx="4.6" ry="3.5" fill="#2a5ad8" transform="rotate(22 934.0 300.8)"/>
<ellipse cx="946.5" cy="305.2" rx="5.8999999999999995" ry="4.6" fill="#b09b28" opacity="0.55" transform="rotate(22 946.5 305.2)"/>
<ellipse cx="946.5" cy="305.2" rx="4.6" ry="3.5" fill="#2a5ad8" transform="rotate(22 946.5 305.2)"/>
<ellipse cx="915.5" cy="279.8" rx="5.8999999999999995" ry="4.6" fill="#b09b28" opacity="0.55" transform="rotate(22 915.5 279.8)"/>
<ellipse cx="915.5" cy="279.8" rx="4.6" ry="3.5" fill="#ffffff" transform="rotate(22 915.5 279.8)"/>
<ellipse cx="928.0" cy="284.2" rx="5.8999999999999995" ry="4.6" fill="#b09b28" opacity="0.55" transform="rotate(22 928.0 284.2)"/>
<ellipse cx="928.0" cy="284.2" rx="4.6" ry="3.5" fill="#2a5ad8" transform="rotate(22 928.0 284.2)"/>
<ellipse cx="940.5" cy="288.8" rx="5.8999999999999995" ry="4.6" fill="#b09b28" opacity="0.55" transform="rotate(22 940.5 288.8)"/>
<ellipse cx="940.5" cy="288.8" rx="4.6" ry="3.5" fill="#2a5ad8" transform="rotate(22 940.5 288.8)"/>
<ellipse cx="953.0" cy="293.2" rx="5.8999999999999995" ry="4.6" fill="#b09b28" opacity="0.55" transform="rotate(22 953.0 293.2)"/>
<ellipse cx="953.0" cy="293.2" rx="4.6" ry="3.5" fill="#2a5ad8" transform="rotate(22 953.0 293.2)"/>
<ellipse cx="965.5" cy="297.8" rx="5.8999999999999995" ry="4.6" fill="#b09b28" opacity="0.55" transform="rotate(22 965.5 297.8)"/>
<ellipse cx="965.5" cy="297.8" rx="4.6" ry="3.5" fill="#2a5ad8" transform="rotate(22 965.5 297.8)"/>
<ellipse cx="978.0" cy="302.2" rx="5.8999999999999995" ry="4.6" fill="#b09b28" opacity="0.55" transform="rotate(22 978.0 302.2)"/>
<ellipse cx="978.0" cy="302.2" rx="4.6" ry="3.5" fill="#2a5ad8" transform="rotate(22 978.0 302.2)"/>
<ellipse cx="909.5" cy="263.2" rx="5.8999999999999995" ry="4.6" fill="#b09b28" opacity="0.55" transform="rotate(22 909.5 263.2)"/>
<ellipse cx="909.5" cy="263.2" rx="4.6" ry="3.5" fill="#ffffff" transform="rotate(22 909.5 263.2)"/>
<ellipse cx="922.0" cy="267.8" rx="5.8999999999999995" ry="4.6" fill="#b09b28" opacity="0.55" transform="rotate(22 922.0 267.8)"/>
<ellipse cx="922.0" cy="267.8" rx="4.6" ry="3.5" fill="#ffffff" transform="rotate(22 922.0 267.8)"/>
<ellipse cx="934.5" cy="272.2" rx="5.8999999999999995" ry="4.6" fill="#b09b28" opacity="0.55" transform="rotate(22 934.5 272.2)"/>
<ellipse cx="934.5" cy="272.2" rx="4.6" ry="3.5" fill="#ffffff" transform="rotate(22 934.5 272.2)"/>
<ellipse cx="947.0" cy="276.8" rx="5.8999999999999995" ry="4.6" fill="#b09b28" opacity="0.55" transform="rotate(22 947.0 276.8)"/>
<ellipse cx="947.0" cy="276.8" rx="4.6" ry="3.5" fill="#ffffff" transform="rotate(22 947.0 276.8)"/>
<ellipse cx="959.5" cy="281.2" rx="5.8999999999999995" ry="4.6" fill="#b09b28" opacity="0.55" transform="rotate(22 959.5 281.2)"/>
<ellipse cx="959.5" cy="281.2" rx="4.6" ry="3.5" fill="#2a5ad8" transform="rotate(22 959.5 281.2)"/>
<ellipse cx="972.0" cy="285.8" rx="5.8999999999999995" ry="4.6" fill="#b09b28" opacity="0.55" transform="rotate(22 972.0 285.8)"/>
<ellipse cx="972.0" cy="285.8" rx="4.6" ry="3.5" fill="#2a5ad8" transform="rotate(22 972.0 285.8)"/>
<ellipse cx="916.0" cy="251.2" rx="5.8999999999999995" ry="4.6" fill="#b09b28" opacity="0.55" transform="rotate(22 916.0 251.2)"/>
<ellipse cx="916.0" cy="251.2" rx="4.6" ry="3.5" fill="#ffffff" transform="rotate(22 916.0 251.2)"/>
<ellipse cx="928.5" cy="255.8" rx="5.8999999999999995" ry="4.6" fill="#b09b28" opacity="0.55" transform="rotate(22 928.5 255.8)"/>
<ellipse cx="928.5" cy="255.8" rx="4.6" ry="3.5" fill="#ffffff" transform="rotate(22 928.5 255.8)"/>
<ellipse cx="941.0" cy="260.2" rx="5.8999999999999995" ry="4.6" fill="#b09b28" opacity="0.55" transform="rotate(22 941.0 260.2)"/>
<ellipse cx="941.0" cy="260.2" rx="4.6" ry="3.5" fill="#ffffff" transform="rotate(22 941.0 260.2)"/>
<ellipse cx="953.5" cy="264.8" rx="5.8999999999999995" ry="4.6" fill="#b09b28" opacity="0.55" transform="rotate(22 953.5 264.8)"/>
<ellipse cx="953.5" cy="264.8" rx="4.6" ry="3.5" fill="#ffffff" transform="rotate(22 953.5 264.8)"/>
<ellipse cx="966.0" cy="269.2" rx="5.8999999999999995" ry="4.6" fill="#b09b28" opacity="0.55" transform="rotate(22 966.0 269.2)"/>
<ellipse cx="966.0" cy="269.2" rx="4.6" ry="3.5" fill="#ffffff" transform="rotate(22 966.0 269.2)"/>
<ellipse cx="978.5" cy="273.8" rx="5.8999999999999995" ry="4.6" fill="#b09b28" opacity="0.55" transform="rotate(22 978.5 273.8)"/>
<ellipse cx="978.5" cy="273.8" rx="4.6" ry="3.5" fill="#ffffff" transform="rotate(22 978.5 273.8)"/>
<ellipse cx="910.0" cy="234.8" rx="5.8999999999999995" ry="4.6" fill="#b09b28" opacity="0.55" transform="rotate(22 910.0 234.8)"/>
<ellipse cx="910.0" cy="234.8" rx="4.6" ry="3.5" fill="#ffffff" transform="rotate(22 910.0 234.8)"/>
<ellipse cx="922.5" cy="239.2" rx="5.8999999999999995" ry="4.6" fill="#b09b28" opacity="0.55" transform="rotate(22 922.5 239.2)"/>
<ellipse cx="922.5" cy="239.2" rx="4.6" ry="3.5" fill="#ffffff" transform="rotate(22 922.5 239.2)"/>
<ellipse cx="935.0" cy="243.8" rx="5.8999999999999995" ry="4.6" fill="#b09b28" opacity="0.55" transform="rotate(22 935.0 243.8)"/>
<ellipse cx="935.0" cy="243.8" rx="4.6" ry="3.5" fill="#ffffff" transform="rotate(22 935.0 243.8)"/>
<ellipse cx="947.5" cy="248.2" rx="5.8999999999999995" ry="4.6" fill="#b09b28" opacity="0.55" transform="rotate(22 947.5 248.2)"/>
<ellipse cx="947.5" cy="248.2" rx="4.6" ry="3.5" fill="#ffffff" transform="rotate(22 947.5 248.2)"/>
<ellipse cx="960.0" cy="252.8" rx="5.8999999999999995" ry="4.6" fill="#b09b28" opacity="0.55" transform="rotate(22 960.0 252.8)"/>
<ellipse cx="960.0" cy="252.8" rx="4.6" ry="3.5" fill="#ffffff" transform="rotate(22 960.0 252.8)"/>
<ellipse cx="972.5" cy="257.2" rx="5.8999999999999995" ry="4.6" fill="#b09b28" opacity="0.55" transform="rotate(22 972.5 257.2)"/>
<ellipse cx="972.5" cy="257.2" rx="4.6" ry="3.5" fill="#ffffff" transform="rotate(22 972.5 257.2)"/>
<ellipse cx="916.5" cy="222.8" rx="5.8999999999999995" ry="4.6" fill="#b09b28" opacity="0.55" transform="rotate(22 916.5 222.8)"/>
<ellipse cx="916.5" cy="222.8" rx="4.6" ry="3.5" fill="#ffffff" transform="rotate(22 916.5 222.8)"/>
<ellipse cx="929.0" cy="227.2" rx="5.8999999999999995" ry="4.6" fill="#b09b28" opacity="0.55" transform="rotate(22 929.0 227.2)"/>
<ellipse cx="929.0" cy="227.2" rx="4.6" ry="3.5" fill="#ffffff" transform="rotate(22 929.0 227.2)"/>
<ellipse cx="941.5" cy="231.8" rx="5.8999999999999995" ry="4.6" fill="#b09b28" opacity="0.55" transform="rotate(22 941.5 231.8)"/>
<ellipse cx="941.5" cy="231.8" rx="4.6" ry="3.5" fill="#ffffff" transform="rotate(22 941.5 231.8)"/>
<ellipse cx="954.0" cy="236.2" rx="5.8999999999999995" ry="4.6" fill="#b09b28" opacity="0.55" transform="rotate(22 954.0 236.2)"/>
<ellipse cx="954.0" cy="236.2" rx="4.6" ry="3.5" fill="#ffffff" transform="rotate(22 954.0 236.2)"/>
<ellipse cx="966.5" cy="240.8" rx="5.8999999999999995" ry="4.6" fill="#b09b28" opacity="0.55" transform="rotate(22 966.5 240.8)"/>
<ellipse cx="966.5" cy="240.8" rx="4.6" ry="3.5" fill="#ffffff" transform="rotate(22 966.5 240.8)"/>
<ellipse cx="979.0" cy="245.2" rx="5.8999999999999995" ry="4.6" fill="#b09b28" opacity="0.55" transform="rotate(22 979.0 245.2)"/>
<ellipse cx="979.0" cy="245.2" rx="4.6" ry="3.5" fill="#ffffff" transform="rotate(22 979.0 245.2)"/>
<ellipse cx="910.5" cy="206.2" rx="5.8999999999999995" ry="4.6" fill="#b09b28" opacity="0.55" transform="rotate(22 910.5 206.2)"/>
<ellipse cx="910.5" cy="206.2" rx="4.6" ry="3.5" fill="#ffffff" transform="rotate(22 910.5 206.2)"/>
<ellipse cx="923.0" cy="210.8" rx="5.8999999999999995" ry="4.6" fill="#b09b28" opacity="0.55" transform="rotate(22 923.0 210.8)"/>
<ellipse cx="923.0" cy="210.8" rx="4.6" ry="3.5" fill="#ffffff" transform="rotate(22 923.0 210.8)"/>
<ellipse cx="935.5" cy="215.2" rx="5.8999999999999995" ry="4.6" fill="#b09b28" opacity="0.55" transform="rotate(22 935.5 215.2)"/>
<ellipse cx="935.5" cy="215.2" rx="4.6" ry="3.5" fill="#ffffff" transform="rotate(22 935.5 215.2)"/>
<ellipse cx="948.0" cy="219.8" rx="5.8999999999999995" ry="4.6" fill="#b09b28" opacity="0.55" transform="rotate(22 948.0 219.8)"/>
<ellipse cx="948.0" cy="219.8" rx="4.6" ry="3.5" fill="#ffffff" transform="rotate(22 948.0 219.8)"/>
<ellipse cx="960.5" cy="224.2" rx="5.8999999999999995" ry="4.6" fill="#b09b28" opacity="0.55" transform="rotate(22 960.5 224.2)"/>
<ellipse cx="960.5" cy="224.2" rx="4.6" ry="3.5" fill="#ffffff" transform="rotate(22 960.5 224.2)"/>
<ellipse cx="973.0" cy="228.8" rx="5.8999999999999995" ry="4.6" fill="#b09b28" opacity="0.55" transform="rotate(22 973.0 228.8)"/>
<ellipse cx="973.0" cy="228.8" rx="4.6" ry="3.5" fill="#ffffff" transform="rotate(22 973.0 228.8)"/>
<ellipse cx="942.0" cy="203.2" rx="5.8999999999999995" ry="4.6" fill="#b09b28" opacity="0.55" transform="rotate(22 942.0 203.2)"/>
<ellipse cx="942.0" cy="203.2" rx="4.6" ry="3.5" fill="#ffffff" transform="rotate(22 942.0 203.2)"/>
<ellipse cx="954.5" cy="207.8" rx="5.8999999999999995" ry="4.6" fill="#b09b28" opacity="0.55" transform="rotate(22 954.5 207.8)"/>
<ellipse cx="954.5" cy="207.8" rx="4.6" ry="3.5" fill="#ffffff" transform="rotate(22 954.5 207.8)"/>
<ellipse cx="967.0" cy="212.2" rx="5.8999999999999995" ry="4.6" fill="#b09b28" opacity="0.55" transform="rotate(22 967.0 212.2)"/>
<ellipse cx="967.0" cy="212.2" rx="4.6" ry="3.5" fill="#ffffff" transform="rotate(22 967.0 212.2)"/>
<ellipse cx="979.5" cy="216.8" rx="5.8999999999999995" ry="4.6" fill="#b09b28" opacity="0.55" transform="rotate(22 979.5 216.8)"/>
<ellipse cx="979.5" cy="216.8" rx="4.6" ry="3.5" fill="#ffffff" transform="rotate(22 979.5 216.8)"/>
<line x1="734.0" y1="408.0" x2="890.0" y2="120.0" stroke="#eedc5e" stroke-width="3.6"/>
<line x1="759.0" y1="417.0" x2="915.0" y2="129.0" stroke="#eedc5e" stroke-width="3.6"/>
<line x1="784.0" y1="426.0" x2="940.0" y2="138.0" stroke="#eedc5e" stroke-width="3.6"/>
<line x1="809.0" y1="435.0" x2="965.0" y2="147.0" stroke="#eedc5e" stroke-width="3.6"/>
<line x1="834.0" y1="444.0" x2="990.0" y2="156.0" stroke="#eedc5e" stroke-width="3.6"/>
<line x1="859.0" y1="453.0" x2="1015.0" y2="165.0" stroke="#eedc5e" stroke-width="3.6"/>
<line x1="884.0" y1="462.0" x2="1040.0" y2="174.0" stroke="#eedc5e" stroke-width="3.6"/>
<line x1="909.0" y1="471.0" x2="1065.0" y2="183.0" stroke="#eedc5e" stroke-width="3.6"/>
<line x1="934.0" y1="480.0" x2="1090.0" y2="192.0" stroke="#eedc5e" stroke-width="3.6"/>
<line x1="959.0" y1="489.0" x2="1115.0" y2="201.0" stroke="#eedc5e" stroke-width="3.6"/>
<line x1="984.0" y1="498.0" x2="1140.0" y2="210.0" stroke="#eedc5e" stroke-width="3.6"/>
</g>
<polygon points="862.8,199.5 883.5,198.2 883.5,193.8 948.0,190.4 997.0,187.3 1002.0,187.5 1030.6,196.4 1030.6,201.2 1005.5,202.9 998.6,205.0 965.7,207.7 945.0,210.0 909.0,213.0 892.6,204.2 870.1,205.5" fill="#1d52de" stroke="none" stroke-width="0" /></svg>
</body></html>
